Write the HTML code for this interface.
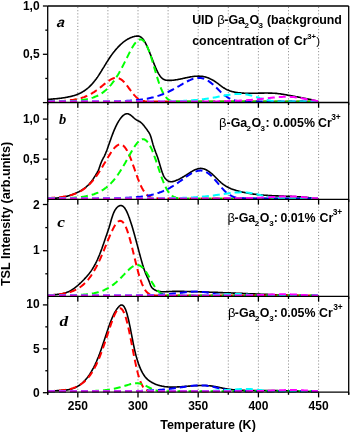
<!DOCTYPE html><html><head><meta charset="utf-8"><style>html,body{margin:0;padding:0;background:#fff;}svg{display:block;will-change:transform;}</style></head><body><svg xmlns="http://www.w3.org/2000/svg" width="350" height="432" viewBox="0 0 350 432">
<rect width="350" height="432" fill="#fff"/>
<g stroke="#8c8c8c" stroke-width="1" stroke-dasharray="1.1 2.05"><line x1="77.80" y1="7.00" x2="77.80" y2="102.00"/><line x1="77.80" y1="103.50" x2="77.80" y2="198.80"/><line x1="77.80" y1="200.30" x2="77.80" y2="295.90"/><line x1="77.80" y1="297.40" x2="77.80" y2="391.70"/><line x1="107.90" y1="7.00" x2="107.90" y2="102.00"/><line x1="107.90" y1="103.50" x2="107.90" y2="198.80"/><line x1="107.90" y1="200.30" x2="107.90" y2="295.90"/><line x1="107.90" y1="297.40" x2="107.90" y2="391.70"/><line x1="138.00" y1="7.00" x2="138.00" y2="102.00"/><line x1="138.00" y1="103.50" x2="138.00" y2="198.80"/><line x1="138.00" y1="200.30" x2="138.00" y2="295.90"/><line x1="138.00" y1="297.40" x2="138.00" y2="391.70"/><line x1="168.10" y1="7.00" x2="168.10" y2="102.00"/><line x1="168.10" y1="103.50" x2="168.10" y2="198.80"/><line x1="168.10" y1="200.30" x2="168.10" y2="295.90"/><line x1="168.10" y1="297.40" x2="168.10" y2="391.70"/><line x1="198.20" y1="7.00" x2="198.20" y2="102.00"/><line x1="198.20" y1="103.50" x2="198.20" y2="198.80"/><line x1="198.20" y1="200.30" x2="198.20" y2="295.90"/><line x1="198.20" y1="297.40" x2="198.20" y2="391.70"/><line x1="228.30" y1="7.00" x2="228.30" y2="102.00"/><line x1="228.30" y1="103.50" x2="228.30" y2="198.80"/><line x1="228.30" y1="200.30" x2="228.30" y2="295.90"/><line x1="228.30" y1="297.40" x2="228.30" y2="391.70"/><line x1="258.40" y1="7.00" x2="258.40" y2="102.00"/><line x1="258.40" y1="103.50" x2="258.40" y2="198.80"/><line x1="258.40" y1="200.30" x2="258.40" y2="295.90"/><line x1="258.40" y1="297.40" x2="258.40" y2="391.70"/><line x1="288.50" y1="7.00" x2="288.50" y2="102.00"/><line x1="288.50" y1="103.50" x2="288.50" y2="198.80"/><line x1="288.50" y1="200.30" x2="288.50" y2="295.90"/><line x1="288.50" y1="297.40" x2="288.50" y2="391.70"/><line x1="318.60" y1="7.00" x2="318.60" y2="102.00"/><line x1="318.60" y1="103.50" x2="318.60" y2="198.80"/><line x1="318.60" y1="200.30" x2="318.60" y2="295.90"/><line x1="318.60" y1="297.40" x2="318.60" y2="391.70"/></g>
<path d="M48.0,99.3 48.5,99.3 49.0,99.3 49.5,99.2 50.0,99.2 50.5,99.2 51.0,99.1 51.5,99.1 52.0,99.1 52.5,99.0 53.0,99.0 53.5,98.9 54.0,98.9 54.5,98.9 55.0,98.8 55.5,98.8 56.0,98.7 56.5,98.7 57.0,98.6 57.5,98.6 58.0,98.5 58.5,98.5 59.0,98.4 59.5,98.4 60.0,98.3 60.5,98.2 61.0,98.2 61.5,98.1 62.0,98.0 62.5,98.0 63.0,97.9 63.5,97.8 64.0,97.7 64.5,97.7 65.0,97.6 65.5,97.5 66.0,97.4 66.5,97.3 67.0,97.2 67.5,97.1 68.0,97.0 68.5,96.9 69.0,96.8 69.5,96.7 70.0,96.6 70.5,96.5 71.0,96.4 71.5,96.2 72.0,96.1 72.5,96.0 73.0,95.8 73.5,95.7 74.0,95.6 74.5,95.4 75.0,95.2 75.5,95.1 76.0,94.9 76.5,94.7 77.0,94.5 77.5,94.4 78.0,94.1 78.5,93.9 79.0,93.7 79.5,93.5 80.0,93.3 80.5,93.0 81.0,92.8 81.5,92.5 82.0,92.2 82.5,91.9 83.0,91.6 83.5,91.3 84.0,91.0 84.5,90.7 85.0,90.3 85.5,90.0 86.0,89.6 86.5,89.2 87.0,88.8 87.5,88.4 88.0,88.0 88.5,87.5 89.0,87.1 89.5,86.6 90.0,86.1 90.5,85.6 91.0,85.1 91.5,84.6 92.0,84.1 92.5,83.5 93.0,82.9 93.5,82.4 94.0,81.7 94.5,81.1 95.0,80.5 95.5,79.8 96.0,79.2 96.5,78.5 97.0,77.8 97.5,77.1 98.0,76.3 98.5,75.6 99.0,74.8 99.5,74.0 100.0,73.3 100.5,72.5 101.0,71.7 101.5,70.9 102.0,70.0 102.5,69.2 103.0,68.4 103.5,67.6 104.0,66.8 104.5,65.9 105.0,65.1 105.5,64.3 106.0,63.5 106.5,62.7 107.0,61.9 107.5,61.1 108.0,60.3 108.5,59.5 109.0,58.8 109.5,58.0 110.0,57.3 110.5,56.5 111.0,55.8 111.5,55.1 112.0,54.4 112.5,53.7 113.0,53.1 113.5,52.4 114.0,51.8 114.5,51.2 115.0,50.5 115.5,49.9 116.0,49.4 116.5,48.8 117.0,48.2 117.5,47.7 118.0,47.1 118.5,46.6 119.0,46.1 119.5,45.6 120.0,45.1 120.5,44.6 121.0,44.2 121.5,43.7 122.0,43.3 122.5,42.8 123.0,42.4 123.5,42.0 124.0,41.6 124.5,41.3 125.0,40.9 125.5,40.6 126.0,40.2 126.5,39.9 127.0,39.6 127.5,39.3 128.0,39.0 128.5,38.7 129.0,38.5 129.5,38.2 130.0,38.0 130.5,37.8 131.0,37.6 131.5,37.4 132.0,37.2 132.5,37.0 133.0,36.8 133.5,36.7 134.0,36.6 134.5,36.4 135.0,36.3 135.5,36.2 136.0,36.2 136.5,36.1 137.0,36.1 137.5,36.1 138.0,36.1 138.5,36.1 139.0,36.3 139.5,36.4 140.0,36.6 140.5,36.9 141.0,37.2 141.5,37.6 142.0,38.0 142.5,38.5 143.0,39.1 143.5,39.8 144.0,40.5 144.5,41.3 145.0,42.2 145.5,43.1 146.0,44.1 146.5,45.1 147.0,46.2 147.5,47.3 148.0,48.4 148.5,49.6 149.0,50.9 149.5,52.1 150.0,53.4 150.5,54.6 151.0,55.9 151.5,57.2 152.0,58.5 152.5,59.8 153.0,61.1 153.5,62.4 154.0,63.6 154.5,64.9 155.0,66.1 155.5,67.3 156.0,68.4 156.5,69.6 157.0,70.6 157.5,71.7 158.0,72.6 158.5,73.6 159.0,74.4 159.5,75.2 160.0,76.0 160.5,76.6 161.0,77.2 161.5,77.7 162.0,78.2 162.5,78.6 163.0,79.0 163.5,79.3 164.0,79.5 164.5,79.8 165.0,79.9 165.5,80.1 166.0,80.2 166.5,80.3 167.0,80.3 167.5,80.4 168.0,80.4 168.5,80.4 169.0,80.4 169.5,80.4 170.0,80.4 170.5,80.4 171.0,80.4 171.5,80.4 172.0,80.3 172.5,80.3 173.0,80.2 173.5,80.2 174.0,80.1 174.5,80.0 175.0,80.0 175.5,79.9 176.0,79.8 176.5,79.7 177.0,79.7 177.5,79.6 178.0,79.5 178.5,79.4 179.0,79.3 179.5,79.2 180.0,79.1 180.5,79.0 181.0,78.9 181.5,78.8 182.0,78.7 182.5,78.6 183.0,78.4 183.5,78.3 184.0,78.2 184.5,78.1 185.0,78.0 185.5,77.9 186.0,77.8 186.5,77.7 187.0,77.6 187.5,77.5 188.0,77.4 188.5,77.3 189.0,77.2 189.5,77.1 190.0,77.0 190.5,76.9 191.0,76.8 191.5,76.7 192.0,76.7 192.5,76.6 193.0,76.5 193.5,76.5 194.0,76.4 194.5,76.3 195.0,76.3 195.5,76.3 196.0,76.2 196.5,76.2 197.0,76.2 197.5,76.2 198.0,76.1 198.5,76.1 199.0,76.1 199.5,76.2 200.0,76.2 200.5,76.2 201.0,76.3 201.5,76.3 202.0,76.4 202.5,76.4 203.0,76.5 203.5,76.6 204.0,76.7 204.5,76.8 205.0,76.9 205.5,77.0 206.0,77.2 206.5,77.3 207.0,77.5 207.5,77.7 208.0,77.8 208.5,78.0 209.0,78.2 209.5,78.4 210.0,78.7 210.5,78.9 211.0,79.2 211.5,79.4 212.0,79.7 212.5,80.0 213.0,80.2 213.5,80.5 214.0,80.8 214.5,81.2 215.0,81.5 215.5,81.8 216.0,82.2 216.5,82.5 217.0,82.9 217.5,83.2 218.0,83.6 218.5,84.0 219.0,84.4 219.5,84.8 220.0,85.2 220.5,85.6 221.0,85.9 221.5,86.3 222.0,86.7 222.5,87.1 223.0,87.4 223.5,87.7 224.0,88.0 224.5,88.3 225.0,88.6 225.5,88.9 226.0,89.2 226.5,89.4 227.0,89.7 227.5,89.9 228.0,90.1 228.5,90.3 229.0,90.5 229.5,90.7 230.0,90.9 230.5,91.1 231.0,91.2 231.5,91.4 232.0,91.5 232.5,91.7 233.0,91.8 233.5,91.9 234.0,92.0 234.5,92.1 235.0,92.2 235.5,92.3 236.0,92.4 236.5,92.5 237.0,92.5 237.5,92.6 238.0,92.7 238.5,92.7 239.0,92.8 239.5,92.8 240.0,92.9 240.5,92.9 241.0,93.0 241.5,93.0 242.0,93.0 242.5,93.1 243.0,93.1 243.5,93.1 244.0,93.2 244.5,93.2 245.0,93.2 245.5,93.2 246.0,93.2 246.5,93.2 247.0,93.3 247.5,93.3 248.0,93.3 248.5,93.3 249.0,93.3 249.5,93.3 250.0,93.3 250.5,93.3 251.0,93.3 251.5,93.3 252.0,93.3 252.5,93.3 253.0,93.3 253.5,93.3 254.0,93.3 254.5,93.2 255.0,93.2 255.5,93.2 256.0,93.2 256.5,93.2 257.0,93.2 257.5,93.2 258.0,93.2 258.5,93.2 259.0,93.1 259.5,93.1 260.0,93.1 260.5,93.1 261.0,93.1 261.5,93.1 262.0,93.1 262.5,93.1 263.0,93.1 263.5,93.1 264.0,93.1 264.5,93.0 265.0,93.0 265.5,93.0 266.0,93.0 266.5,93.0 267.0,93.0 267.5,93.0 268.0,93.0 268.5,93.1 269.0,93.1 269.5,93.1 270.0,93.1 270.5,93.1 271.0,93.1 271.5,93.1 272.0,93.1 272.5,93.2 273.0,93.2 273.5,93.2 274.0,93.3 274.5,93.3 275.0,93.3 275.5,93.4 276.0,93.4 276.5,93.4 277.0,93.5 277.5,93.5 278.0,93.6 278.5,93.7 279.0,93.7 279.5,93.8 280.0,93.8 280.5,93.9 281.0,94.0 281.5,94.1 282.0,94.1 282.5,94.2 283.0,94.3 283.5,94.4 284.0,94.5 284.5,94.5 285.0,94.6 285.5,94.7 286.0,94.8 286.5,94.9 287.0,95.0 287.5,95.1 288.0,95.2 288.5,95.3 289.0,95.4 289.5,95.5 290.0,95.5 290.5,95.6 291.0,95.7 291.5,95.8 292.0,95.9 292.5,96.0 293.0,96.1 293.5,96.2 294.0,96.3 294.5,96.4 295.0,96.5 295.5,96.6 296.0,96.7 296.5,96.7 297.0,96.8 297.5,96.9 298.0,97.0 298.5,97.1 299.0,97.2 299.5,97.3 300.0,97.4 300.5,97.5 301.0,97.6 301.5,97.7 302.0,97.8 302.5,97.9 303.0,98.0 303.5,98.1 304.0,98.2 304.5,98.3 305.0,98.4 305.5,98.5 306.0,98.6 306.5,98.7 307.0,98.8 307.5,98.9 308.0,99.0 308.5,99.1 309.0,99.2 309.5,99.3 310.0,99.4 310.5,99.5 311.0,99.6 311.5,99.8 312.0,99.9 312.5,100.0 313.0,100.1 313.5,100.2 314.0,100.4 314.5,100.5 315.0,100.6 315.5,100.7 316.0,100.9 316.5,101.0 317.0,101.2 317.5,101.3 318.0,101.4 318.5,101.6" fill="none" stroke="#000" stroke-width="1.6" stroke-linejoin="round"/>
<path d="M48.0,101.5 49.0,101.4 50.0,101.4 51.0,101.4 52.0,101.4 53.0,101.4 54.0,101.3 55.0,101.3 56.0,101.3 57.0,101.2 58.0,101.2 59.0,101.1 60.0,101.1 61.0,101.0 62.0,101.0 63.0,100.9 64.0,100.9 65.0,100.8 66.0,100.7 67.0,100.6 68.0,100.5 69.0,100.4 70.0,100.3 71.0,100.1 72.0,100.0 73.0,99.9 74.0,99.7 75.0,99.5 76.0,99.3 77.0,99.1 78.0,98.9 79.0,98.6 80.0,98.4 81.0,98.1 82.0,97.8 83.0,97.4 84.0,97.1 85.0,96.7 86.0,96.3 87.0,95.9 88.0,95.4 89.0,94.9 90.0,94.4 91.0,93.9 92.0,93.3 93.0,92.7 94.0,92.1 95.0,91.4 96.0,90.7 97.0,90.0 98.0,89.2 99.0,88.5 100.0,87.7 101.0,86.9 102.0,86.1 103.0,85.2 104.0,84.4 105.0,83.6 106.0,82.8 107.0,82.0 108.0,81.3 109.0,80.6 110.0,80.0 111.0,79.4 112.0,78.9 113.0,78.5 114.0,78.1 115.0,77.9 116.0,77.8 117.0,77.9 118.0,78.0 119.0,78.3 120.0,78.8 121.0,79.4 122.0,80.1 123.0,81.0 124.0,82.0 125.0,83.1 126.0,84.3 127.0,85.6 128.0,86.9 129.0,88.3 130.0,89.7 131.0,91.0 132.0,92.4 133.0,93.6 134.0,94.8 135.0,95.9 136.0,96.9 137.0,97.8 138.0,98.6 139.0,99.3 140.0,99.8 141.0,100.3 142.0,100.6 143.0,100.9 144.0,101.1 145.0,101.3 146.0,101.4 147.0,101.5 148.0,101.5 149.0,101.5 150.0,101.6 151.0,101.6 152.0,101.6 153.0,101.6 154.0,101.6 155.0,101.6 156.0,101.6 157.0,101.6 158.0,101.6 159.0,101.6 160.0,101.6 161.0,101.6 162.0,101.6 163.0,101.6 164.0,101.6 165.0,101.6 166.0,101.6 167.0,101.6 168.0,101.6 169.0,101.6 170.0,101.6 171.0,101.6 172.0,101.6 173.0,101.6 174.0,101.6 175.0,101.6 176.0,101.6 177.0,101.6 178.0,101.6 179.0,101.6 180.0,101.6 181.0,101.6 182.0,101.6 183.0,101.6 184.0,101.6 185.0,101.6 186.0,101.6 187.0,101.6 188.0,101.6 189.0,101.6 190.0,101.6 191.0,101.6 192.0,101.6 193.0,101.6 194.0,101.6 195.0,101.6 196.0,101.6 197.0,101.6 198.0,101.6 199.0,101.6 200.0,101.6 201.0,101.6 202.0,101.6 203.0,101.6 204.0,101.6 205.0,101.6 206.0,101.6 207.0,101.6 208.0,101.6 209.0,101.6 210.0,101.6 211.0,101.6 212.0,101.6 213.0,101.6 214.0,101.6 215.0,101.6 216.0,101.6 217.0,101.6 218.0,101.6 219.0,101.6 220.0,101.6 221.0,101.6 222.0,101.6 223.0,101.6 224.0,101.6 225.0,101.6 226.0,101.6 227.0,101.6 228.0,101.6 229.0,101.6 230.0,101.6 231.0,101.6 232.0,101.6 233.0,101.6 234.0,101.6 235.0,101.6 236.0,101.6 237.0,101.6 238.0,101.6 239.0,101.6 240.0,101.6 241.0,101.6 242.0,101.6 243.0,101.6 244.0,101.6 245.0,101.6 246.0,101.6 247.0,101.6 248.0,101.6 249.0,101.6 250.0,101.6 251.0,101.6 252.0,101.6 253.0,101.6 254.0,101.6 255.0,101.6 256.0,101.6 257.0,101.6 258.0,101.6 259.0,101.6 260.0,101.6 261.0,101.6 262.0,101.6 263.0,101.6 264.0,101.6 265.0,101.6 266.0,101.6 267.0,101.6 268.0,101.6 269.0,101.6 270.0,101.6 271.0,101.6 272.0,101.6 273.0,101.6 274.0,101.6 275.0,101.6 276.0,101.6 277.0,101.6 278.0,101.6 279.0,101.6 280.0,101.6 281.0,101.6 282.0,101.6 283.0,101.6 284.0,101.6 285.0,101.6 286.0,101.6 287.0,101.6 288.0,101.6 289.0,101.6 290.0,101.6 291.0,101.6 292.0,101.6 293.0,101.6 294.0,101.6 295.0,101.6 296.0,101.6 297.0,101.6 298.0,101.6 299.0,101.6 300.0,101.6 301.0,101.6 302.0,101.6 303.0,101.6 304.0,101.6 305.0,101.6 306.0,101.6 307.0,101.6 308.0,101.6 309.0,101.6 310.0,101.6 311.0,101.6 312.0,101.6 313.0,101.6 314.0,101.6 315.0,101.6 316.0,101.6 317.0,101.6 318.0,101.6" fill="none" stroke="#ff0000" stroke-width="2" stroke-dasharray="7 4" stroke-linejoin="round"/>
<path d="M48.0,101.6 49.0,101.6 50.0,101.5 51.0,101.5 52.0,101.5 53.0,101.5 54.0,101.5 55.0,101.5 56.0,101.5 57.0,101.5 58.0,101.5 59.0,101.5 60.0,101.4 61.0,101.4 62.0,101.4 63.0,101.4 64.0,101.4 65.0,101.3 66.0,101.3 67.0,101.3 68.0,101.2 69.0,101.2 70.0,101.1 71.0,101.1 72.0,101.0 73.0,101.0 74.0,100.9 75.0,100.8 76.0,100.8 77.0,100.7 78.0,100.6 79.0,100.5 80.0,100.4 81.0,100.2 82.0,100.1 83.0,100.0 84.0,99.8 85.0,99.6 86.0,99.4 87.0,99.2 88.0,99.0 89.0,98.8 90.0,98.5 91.0,98.2 92.0,97.9 93.0,97.6 94.0,97.2 95.0,96.8 96.0,96.4 97.0,96.0 98.0,95.5 99.0,94.9 100.0,94.4 101.0,93.8 102.0,93.1 103.0,92.4 104.0,91.6 105.0,90.8 106.0,90.0 107.0,89.1 108.0,88.1 109.0,87.0 110.0,85.9 111.0,84.8 112.0,83.5 113.0,82.2 114.0,80.9 115.0,79.4 116.0,77.9 117.0,76.3 118.0,74.7 119.0,73.0 120.0,71.2 121.0,69.4 122.0,67.5 123.0,65.6 124.0,63.6 125.0,61.6 126.0,59.6 127.0,57.6 128.0,55.6 129.0,53.6 130.0,51.6 131.0,49.8 132.0,48.0 133.0,46.3 134.0,44.7 135.0,43.3 136.0,42.1 137.0,41.0 138.0,40.2 139.0,39.7 140.0,39.4 141.0,39.4 142.0,39.7 143.0,40.4 144.0,41.3 145.0,42.6 146.0,44.3 147.0,46.2 148.0,48.5 149.0,51.0 150.0,53.8 151.0,56.8 152.0,60.0 153.0,63.3 154.0,66.7 155.0,70.1 156.0,73.5 157.0,76.8 158.0,80.0 159.0,83.0 160.0,85.8 161.0,88.4 162.0,90.7 163.0,92.7 164.0,94.5 165.0,96.1 166.0,97.3 167.0,98.4 168.0,99.2 169.0,99.9 170.0,100.4 171.0,100.8 172.0,101.0 173.0,101.2 174.0,101.4 175.0,101.5 176.0,101.5 177.0,101.5 178.0,101.6 179.0,101.6 180.0,101.6 181.0,101.6 182.0,101.6 183.0,101.6 184.0,101.6 185.0,101.6 186.0,101.6 187.0,101.6 188.0,101.6 189.0,101.6 190.0,101.6 191.0,101.6 192.0,101.6 193.0,101.6 194.0,101.6 195.0,101.6 196.0,101.6 197.0,101.6 198.0,101.6 199.0,101.6 200.0,101.6 201.0,101.6 202.0,101.6 203.0,101.6 204.0,101.6 205.0,101.6 206.0,101.6 207.0,101.6 208.0,101.6 209.0,101.6 210.0,101.6 211.0,101.6 212.0,101.6 213.0,101.6 214.0,101.6 215.0,101.6 216.0,101.6 217.0,101.6 218.0,101.6 219.0,101.6 220.0,101.6 221.0,101.6 222.0,101.6 223.0,101.6 224.0,101.6 225.0,101.6 226.0,101.6 227.0,101.6 228.0,101.6 229.0,101.6 230.0,101.6 231.0,101.6 232.0,101.6 233.0,101.6 234.0,101.6 235.0,101.6 236.0,101.6 237.0,101.6 238.0,101.6 239.0,101.6 240.0,101.6 241.0,101.6 242.0,101.6 243.0,101.6 244.0,101.6 245.0,101.6 246.0,101.6 247.0,101.6 248.0,101.6 249.0,101.6 250.0,101.6 251.0,101.6 252.0,101.6 253.0,101.6 254.0,101.6 255.0,101.6 256.0,101.6 257.0,101.6 258.0,101.6 259.0,101.6 260.0,101.6 261.0,101.6 262.0,101.6 263.0,101.6 264.0,101.6 265.0,101.6 266.0,101.6 267.0,101.6 268.0,101.6 269.0,101.6 270.0,101.6 271.0,101.6 272.0,101.6 273.0,101.6 274.0,101.6 275.0,101.6 276.0,101.6 277.0,101.6 278.0,101.6 279.0,101.6 280.0,101.6 281.0,101.6 282.0,101.6 283.0,101.6 284.0,101.6 285.0,101.6 286.0,101.6 287.0,101.6 288.0,101.6 289.0,101.6 290.0,101.6 291.0,101.6 292.0,101.6 293.0,101.6 294.0,101.6 295.0,101.6 296.0,101.6 297.0,101.6 298.0,101.6 299.0,101.6 300.0,101.6 301.0,101.6 302.0,101.6 303.0,101.6 304.0,101.6 305.0,101.6 306.0,101.6 307.0,101.6 308.0,101.6 309.0,101.6 310.0,101.6 311.0,101.6 312.0,101.6 313.0,101.6 314.0,101.6 315.0,101.6 316.0,101.6 317.0,101.6 318.0,101.6" fill="none" stroke="#00ff00" stroke-width="2" stroke-dasharray="7 4" stroke-linejoin="round"/>
<path d="M48.0,101.6 49.0,101.6 50.0,101.6 51.0,101.6 52.0,101.6 53.0,101.6 54.0,101.6 55.0,101.6 56.0,101.6 57.0,101.6 58.0,101.6 59.0,101.6 60.0,101.6 61.0,101.6 62.0,101.6 63.0,101.6 64.0,101.6 65.0,101.6 66.0,101.6 67.0,101.6 68.0,101.6 69.0,101.6 70.0,101.6 71.0,101.6 72.0,101.6 73.0,101.6 74.0,101.6 75.0,101.6 76.0,101.6 77.0,101.6 78.0,101.6 79.0,101.6 80.0,101.6 81.0,101.6 82.0,101.6 83.0,101.6 84.0,101.6 85.0,101.6 86.0,101.6 87.0,101.6 88.0,101.6 89.0,101.6 90.0,101.6 91.0,101.6 92.0,101.6 93.0,101.6 94.0,101.5 95.0,101.5 96.0,101.5 97.0,101.5 98.0,101.5 99.0,101.5 100.0,101.5 101.0,101.5 102.0,101.5 103.0,101.5 104.0,101.5 105.0,101.5 106.0,101.4 107.0,101.4 108.0,101.4 109.0,101.4 110.0,101.4 111.0,101.4 112.0,101.4 113.0,101.3 114.0,101.3 115.0,101.3 116.0,101.3 117.0,101.2 118.0,101.2 119.0,101.2 120.0,101.1 121.0,101.1 122.0,101.1 123.0,101.0 124.0,101.0 125.0,100.9 126.0,100.9 127.0,100.8 128.0,100.8 129.0,100.7 130.0,100.7 131.0,100.6 132.0,100.5 133.0,100.4 134.0,100.3 135.0,100.3 136.0,100.2 137.0,100.1 138.0,100.0 139.0,99.8 140.0,99.7 141.0,99.6 142.0,99.5 143.0,99.3 144.0,99.2 145.0,99.0 146.0,98.8 147.0,98.7 148.0,98.5 149.0,98.3 150.0,98.1 151.0,97.8 152.0,97.6 153.0,97.4 154.0,97.1 155.0,96.8 156.0,96.5 157.0,96.2 158.0,95.9 159.0,95.6 160.0,95.3 161.0,94.9 162.0,94.5 163.0,94.2 164.0,93.7 165.0,93.3 166.0,92.9 167.0,92.5 168.0,92.0 169.0,91.5 170.0,91.0 171.0,90.5 172.0,90.0 173.0,89.5 174.0,88.9 175.0,88.4 176.0,87.8 177.0,87.2 178.0,86.6 179.0,86.1 180.0,85.5 181.0,84.9 182.0,84.3 183.0,83.7 184.0,83.2 185.0,82.6 186.0,82.0 187.0,81.5 188.0,81.0 189.0,80.5 190.0,80.1 191.0,79.6 192.0,79.2 193.0,78.9 194.0,78.6 195.0,78.3 196.0,78.1 197.0,78.0 198.0,77.9 199.0,77.9 200.0,77.9 201.0,78.0 202.0,78.2 203.0,78.4 204.0,78.7 205.0,79.1 206.0,79.6 207.0,80.1 208.0,80.7 209.0,81.4 210.0,82.1 211.0,82.9 212.0,83.7 213.0,84.6 214.0,85.5 215.0,86.4 216.0,87.4 217.0,88.3 218.0,89.3 219.0,90.3 220.0,91.2 221.0,92.2 222.0,93.1 223.0,93.9 224.0,94.8 225.0,95.6 226.0,96.3 227.0,97.0 228.0,97.6 229.0,98.2 230.0,98.7 231.0,99.2 232.0,99.6 233.0,99.9 234.0,100.2 235.0,100.5 236.0,100.7 237.0,100.9 238.0,101.1 239.0,101.2 240.0,101.3 241.0,101.4 242.0,101.4 243.0,101.5 244.0,101.5 245.0,101.5 246.0,101.6 247.0,101.6 248.0,101.6 249.0,101.6 250.0,101.6 251.0,101.6 252.0,101.6 253.0,101.6 254.0,101.6 255.0,101.6 256.0,101.6 257.0,101.6 258.0,101.6 259.0,101.6 260.0,101.6 261.0,101.6 262.0,101.6 263.0,101.6 264.0,101.6 265.0,101.6 266.0,101.6 267.0,101.6 268.0,101.6 269.0,101.6 270.0,101.6 271.0,101.6 272.0,101.6 273.0,101.6 274.0,101.6 275.0,101.6 276.0,101.6 277.0,101.6 278.0,101.6 279.0,101.6 280.0,101.6 281.0,101.6 282.0,101.6 283.0,101.6 284.0,101.6 285.0,101.6 286.0,101.6 287.0,101.6 288.0,101.6 289.0,101.6 290.0,101.6 291.0,101.6 292.0,101.6 293.0,101.6 294.0,101.6 295.0,101.6 296.0,101.6 297.0,101.6 298.0,101.6 299.0,101.6 300.0,101.6 301.0,101.6 302.0,101.6 303.0,101.6 304.0,101.6 305.0,101.6 306.0,101.6 307.0,101.6 308.0,101.6 309.0,101.6 310.0,101.6 311.0,101.6 312.0,101.6 313.0,101.6 314.0,101.6 315.0,101.6 316.0,101.6 317.0,101.6 318.0,101.6" fill="none" stroke="#0000ff" stroke-width="2" stroke-dasharray="7 4" stroke-linejoin="round"/>
<path d="M48.0,101.6 49.0,101.6 50.0,101.6 51.0,101.6 52.0,101.6 53.0,101.6 54.0,101.6 55.0,101.6 56.0,101.6 57.0,101.6 58.0,101.6 59.0,101.6 60.0,101.6 61.0,101.6 62.0,101.6 63.0,101.6 64.0,101.6 65.0,101.6 66.0,101.6 67.0,101.6 68.0,101.6 69.0,101.6 70.0,101.6 71.0,101.6 72.0,101.6 73.0,101.6 74.0,101.6 75.0,101.6 76.0,101.6 77.0,101.6 78.0,101.6 79.0,101.6 80.0,101.6 81.0,101.6 82.0,101.6 83.0,101.6 84.0,101.6 85.0,101.6 86.0,101.6 87.0,101.6 88.0,101.6 89.0,101.6 90.0,101.6 91.0,101.6 92.0,101.6 93.0,101.6 94.0,101.6 95.0,101.6 96.0,101.6 97.0,101.6 98.0,101.6 99.0,101.6 100.0,101.6 101.0,101.6 102.0,101.6 103.0,101.6 104.0,101.6 105.0,101.6 106.0,101.6 107.0,101.6 108.0,101.6 109.0,101.6 110.0,101.6 111.0,101.6 112.0,101.6 113.0,101.6 114.0,101.6 115.0,101.6 116.0,101.6 117.0,101.6 118.0,101.6 119.0,101.6 120.0,101.6 121.0,101.6 122.0,101.6 123.0,101.6 124.0,101.6 125.0,101.6 126.0,101.6 127.0,101.6 128.0,101.6 129.0,101.6 130.0,101.6 131.0,101.6 132.0,101.6 133.0,101.6 134.0,101.6 135.0,101.6 136.0,101.6 137.0,101.6 138.0,101.6 139.0,101.6 140.0,101.6 141.0,101.6 142.0,101.6 143.0,101.6 144.0,101.6 145.0,101.6 146.0,101.5 147.0,101.5 148.0,101.5 149.0,101.5 150.0,101.5 151.0,101.5 152.0,101.5 153.0,101.5 154.0,101.5 155.0,101.5 156.0,101.5 157.0,101.5 158.0,101.5 159.0,101.5 160.0,101.4 161.0,101.4 162.0,101.4 163.0,101.4 164.0,101.4 165.0,101.4 166.0,101.4 167.0,101.3 168.0,101.3 169.0,101.3 170.0,101.3 171.0,101.3 172.0,101.2 173.0,101.2 174.0,101.2 175.0,101.2 176.0,101.1 177.0,101.1 178.0,101.1 179.0,101.0 180.0,101.0 181.0,100.9 182.0,100.9 183.0,100.9 184.0,100.8 185.0,100.8 186.0,100.7 187.0,100.6 188.0,100.6 189.0,100.5 190.0,100.5 191.0,100.4 192.0,100.3 193.0,100.2 194.0,100.1 195.0,100.1 196.0,100.0 197.0,99.9 198.0,99.8 199.0,99.7 200.0,99.6 201.0,99.4 202.0,99.3 203.0,99.2 204.0,99.1 205.0,98.9 206.0,98.8 207.0,98.7 208.0,98.5 209.0,98.4 210.0,98.2 211.0,98.0 212.0,97.9 213.0,97.7 214.0,97.5 215.0,97.4 216.0,97.2 217.0,97.0 218.0,96.8 219.0,96.6 220.0,96.4 221.0,96.2 222.0,96.0 223.0,95.9 224.0,95.7 225.0,95.5 226.0,95.3 227.0,95.1 228.0,95.0 229.0,94.8 230.0,94.7 231.0,94.5 232.0,94.4 233.0,94.3 234.0,94.2 235.0,94.1 236.0,94.0 237.0,93.9 238.0,93.9 239.0,93.9 240.0,93.9 241.0,93.9 242.0,94.0 243.0,94.0 244.0,94.1 245.0,94.3 246.0,94.4 247.0,94.6 248.0,94.8 249.0,95.0 250.0,95.2 251.0,95.4 252.0,95.7 253.0,96.0 254.0,96.3 255.0,96.6 256.0,96.9 257.0,97.2 258.0,97.5 259.0,97.8 260.0,98.2 261.0,98.5 262.0,98.8 263.0,99.1 264.0,99.3 265.0,99.6 266.0,99.8 267.0,100.1 268.0,100.3 269.0,100.5 270.0,100.6 271.0,100.8 272.0,100.9 273.0,101.1 274.0,101.2 275.0,101.2 276.0,101.3 277.0,101.4 278.0,101.4 279.0,101.5 280.0,101.5 281.0,101.5 282.0,101.5 283.0,101.6 284.0,101.6 285.0,101.6 286.0,101.6 287.0,101.6 288.0,101.6 289.0,101.6 290.0,101.6 291.0,101.6 292.0,101.6 293.0,101.6 294.0,101.6 295.0,101.6 296.0,101.6 297.0,101.6 298.0,101.6 299.0,101.6 300.0,101.6 301.0,101.6 302.0,101.6 303.0,101.6 304.0,101.6 305.0,101.6 306.0,101.6 307.0,101.6 308.0,101.6 309.0,101.6 310.0,101.6 311.0,101.6 312.0,101.6 313.0,101.6 314.0,101.6 315.0,101.6 316.0,101.6 317.0,101.6 318.0,101.6" fill="none" stroke="#00ffff" stroke-width="2" stroke-dasharray="7 4" stroke-linejoin="round"/>
<path d="M48.0,101.6 49.0,101.6 50.0,101.6 51.0,101.6 52.0,101.6 53.0,101.6 54.0,101.6 55.0,101.6 56.0,101.6 57.0,101.6 58.0,101.6 59.0,101.6 60.0,101.6 61.0,101.6 62.0,101.6 63.0,101.6 64.0,101.6 65.0,101.6 66.0,101.6 67.0,101.6 68.0,101.6 69.0,101.6 70.0,101.6 71.0,101.6 72.0,101.6 73.0,101.6 74.0,101.6 75.0,101.6 76.0,101.6 77.0,101.6 78.0,101.6 79.0,101.6 80.0,101.6 81.0,101.6 82.0,101.6 83.0,101.6 84.0,101.6 85.0,101.6 86.0,101.6 87.0,101.6 88.0,101.6 89.0,101.6 90.0,101.6 91.0,101.6 92.0,101.6 93.0,101.6 94.0,101.6 95.0,101.6 96.0,101.6 97.0,101.6 98.0,101.6 99.0,101.6 100.0,101.6 101.0,101.6 102.0,101.6 103.0,101.6 104.0,101.6 105.0,101.6 106.0,101.6 107.0,101.6 108.0,101.6 109.0,101.6 110.0,101.6 111.0,101.6 112.0,101.6 113.0,101.6 114.0,101.6 115.0,101.6 116.0,101.6 117.0,101.6 118.0,101.6 119.0,101.6 120.0,101.6 121.0,101.6 122.0,101.6 123.0,101.6 124.0,101.6 125.0,101.6 126.0,101.6 127.0,101.6 128.0,101.6 129.0,101.6 130.0,101.6 131.0,101.6 132.0,101.6 133.0,101.6 134.0,101.6 135.0,101.6 136.0,101.6 137.0,101.6 138.0,101.6 139.0,101.6 140.0,101.6 141.0,101.6 142.0,101.6 143.0,101.6 144.0,101.6 145.0,101.6 146.0,101.6 147.0,101.6 148.0,101.6 149.0,101.6 150.0,101.6 151.0,101.6 152.0,101.6 153.0,101.6 154.0,101.6 155.0,101.6 156.0,101.6 157.0,101.6 158.0,101.6 159.0,101.6 160.0,101.6 161.0,101.6 162.0,101.6 163.0,101.6 164.0,101.6 165.0,101.6 166.0,101.6 167.0,101.6 168.0,101.6 169.0,101.6 170.0,101.6 171.0,101.6 172.0,101.6 173.0,101.6 174.0,101.6 175.0,101.6 176.0,101.6 177.0,101.6 178.0,101.6 179.0,101.6 180.0,101.6 181.0,101.6 182.0,101.6 183.0,101.6 184.0,101.6 185.0,101.6 186.0,101.6 187.0,101.6 188.0,101.6 189.0,101.6 190.0,101.6 191.0,101.6 192.0,101.6 193.0,101.6 194.0,101.5 195.0,101.5 196.0,101.5 197.0,101.5 198.0,101.5 199.0,101.5 200.0,101.5 201.0,101.5 202.0,101.5 203.0,101.5 204.0,101.5 205.0,101.5 206.0,101.5 207.0,101.5 208.0,101.5 209.0,101.5 210.0,101.4 211.0,101.4 212.0,101.4 213.0,101.4 214.0,101.4 215.0,101.4 216.0,101.4 217.0,101.4 218.0,101.3 219.0,101.3 220.0,101.3 221.0,101.3 222.0,101.3 223.0,101.2 224.0,101.2 225.0,101.2 226.0,101.2 227.0,101.1 228.0,101.1 229.0,101.1 230.0,101.1 231.0,101.0 232.0,101.0 233.0,101.0 234.0,100.9 235.0,100.9 236.0,100.8 237.0,100.8 238.0,100.7 239.0,100.7 240.0,100.6 241.0,100.6 242.0,100.5 243.0,100.5 244.0,100.4 245.0,100.3 246.0,100.3 247.0,100.2 248.0,100.1 249.0,100.1 250.0,100.0 251.0,99.9 252.0,99.8 253.0,99.7 254.0,99.6 255.0,99.5 256.0,99.5 257.0,99.4 258.0,99.3 259.0,99.2 260.0,99.1 261.0,98.9 262.0,98.8 263.0,98.7 264.0,98.6 265.0,98.5 266.0,98.4 267.0,98.3 268.0,98.2 269.0,98.0 270.0,97.9 271.0,97.8 272.0,97.7 273.0,97.6 274.0,97.5 275.0,97.4 276.0,97.3 277.0,97.2 278.0,97.1 279.0,97.1 280.0,97.0 281.0,96.9 282.0,96.9 283.0,96.8 284.0,96.8 285.0,96.8 286.0,96.8 287.0,96.8 288.0,96.8 289.0,96.8 290.0,96.8 291.0,96.9 292.0,97.0 293.0,97.1 294.0,97.1 295.0,97.3 296.0,97.4 297.0,97.5 298.0,97.7 299.0,97.8 300.0,98.0 301.0,98.1 302.0,98.3 303.0,98.5 304.0,98.7 305.0,98.9 306.0,99.1 307.0,99.3 308.0,99.5 309.0,99.7 310.0,99.8 311.0,100.0 312.0,100.2 313.0,100.3 314.0,100.5 315.0,100.6 316.0,100.8 317.0,100.9 318.0,101.0" fill="none" stroke="#ff00ff" stroke-width="2" stroke-dasharray="7 4" stroke-linejoin="round"/>
<path d="M48.0,198.2 48.5,198.2 49.0,198.2 49.5,198.2 50.0,198.2 50.5,198.2 51.0,198.3 51.5,198.3 52.0,198.3 52.5,198.2 53.0,198.2 53.5,198.2 54.0,198.2 54.5,198.2 55.0,198.2 55.5,198.1 56.0,198.1 56.5,198.1 57.0,198.0 57.5,198.0 58.0,197.9 58.5,197.9 59.0,197.8 59.5,197.7 60.0,197.7 60.5,197.6 61.0,197.5 61.5,197.4 62.0,197.4 62.5,197.3 63.0,197.2 63.5,197.1 64.0,197.0 64.5,196.9 65.0,196.8 65.5,196.6 66.0,196.5 66.5,196.4 67.0,196.3 67.5,196.1 68.0,196.0 68.5,195.8 69.0,195.7 69.5,195.5 70.0,195.4 70.5,195.2 71.0,195.0 71.5,194.9 72.0,194.7 72.5,194.5 73.0,194.3 73.5,194.1 74.0,193.9 74.5,193.7 75.0,193.5 75.5,193.3 76.0,193.1 76.5,192.9 77.0,192.6 77.5,192.4 78.0,192.1 78.5,191.9 79.0,191.7 79.5,191.4 80.0,191.1 80.5,190.9 81.0,190.6 81.5,190.3 82.0,190.0 82.5,189.7 83.0,189.3 83.5,189.0 84.0,188.6 84.5,188.3 85.0,187.9 85.5,187.5 86.0,187.1 86.5,186.6 87.0,186.2 87.5,185.7 88.0,185.3 88.5,184.7 89.0,184.2 89.5,183.7 90.0,183.1 90.5,182.5 91.0,181.9 91.5,181.3 92.0,180.6 92.5,179.9 93.0,179.2 93.5,178.5 94.0,177.7 94.5,176.9 95.0,176.1 95.5,175.3 96.0,174.5 96.5,173.7 97.0,172.9 97.5,172.0 98.0,171.0 98.5,169.9 99.0,168.6 99.5,167.2 100.0,165.8 100.5,164.3 101.0,163.0 101.5,161.7 102.0,160.6 102.5,159.6 103.0,158.7 103.5,157.7 104.0,156.8 104.5,155.8 105.0,154.7 105.5,153.6 106.0,152.3 106.5,151.1 107.0,149.8 107.5,148.4 108.0,147.0 108.5,145.6 109.0,144.2 109.5,142.7 110.0,141.3 110.5,139.9 111.0,138.5 111.5,137.1 112.0,135.7 112.5,134.4 113.0,133.1 113.5,131.8 114.0,130.6 114.5,129.4 115.0,128.3 115.5,127.2 116.0,126.1 116.5,125.1 117.0,124.1 117.5,123.2 118.0,122.3 118.5,121.4 119.0,120.6 119.5,119.9 120.0,119.1 120.5,118.4 121.0,117.8 121.5,117.2 122.0,116.6 122.5,116.1 123.0,115.6 123.5,115.2 124.0,114.9 124.5,114.5 125.0,114.3 125.5,114.1 126.0,113.9 126.5,113.8 127.0,113.8 127.5,113.8 128.0,113.8 128.5,114.0 129.0,114.2 129.5,114.4 130.0,114.7 130.5,115.0 131.0,115.4 131.5,115.8 132.0,116.2 132.5,116.7 133.0,117.1 133.5,117.6 134.0,118.0 134.5,118.5 135.0,118.9 135.5,119.2 136.0,119.6 136.5,119.9 137.0,120.2 137.5,120.4 138.0,120.7 138.5,121.0 139.0,121.2 139.5,121.5 140.0,121.8 140.5,122.2 141.0,122.6 141.5,123.0 142.0,123.5 142.5,124.0 143.0,124.6 143.5,125.1 144.0,125.7 144.5,126.4 145.0,127.0 145.5,127.7 146.0,128.4 146.5,129.1 147.0,129.7 147.5,130.5 148.0,131.2 148.5,131.9 149.0,132.6 149.5,133.5 150.0,134.5 150.5,135.8 151.0,137.2 151.5,138.9 152.0,140.8 152.5,142.6 153.0,144.4 153.5,146.0 154.0,147.6 154.5,149.0 155.0,150.4 155.5,151.7 156.0,153.1 156.5,154.4 157.0,155.7 157.5,157.1 158.0,158.6 158.5,160.2 159.0,161.8 159.5,163.5 160.0,165.2 160.5,166.9 161.0,168.6 161.5,170.2 162.0,171.7 162.5,173.1 163.0,174.4 163.5,175.6 164.0,176.6 164.5,177.4 165.0,178.2 165.5,178.8 166.0,179.3 166.5,179.8 167.0,180.2 167.5,180.6 168.0,180.9 168.5,181.2 169.0,181.4 169.5,181.5 170.0,181.6 170.5,181.7 171.0,181.7 171.5,181.7 172.0,181.7 172.5,181.6 173.0,181.5 173.5,181.4 174.0,181.2 174.5,181.1 175.0,180.9 175.5,180.7 176.0,180.5 176.5,180.3 177.0,180.1 177.5,179.9 178.0,179.7 178.5,179.4 179.0,179.2 179.5,178.9 180.0,178.7 180.5,178.4 181.0,178.1 181.5,177.9 182.0,177.6 182.5,177.3 183.0,177.0 183.5,176.7 184.0,176.4 184.5,176.1 185.0,175.8 185.5,175.5 186.0,175.2 186.5,174.9 187.0,174.5 187.5,174.2 188.0,173.9 188.5,173.6 189.0,173.3 189.5,172.9 190.0,172.6 190.5,172.3 191.0,172.0 191.5,171.7 192.0,171.4 192.5,171.1 193.0,170.8 193.5,170.6 194.0,170.3 194.5,170.1 195.0,169.8 195.5,169.6 196.0,169.4 196.5,169.2 197.0,169.1 197.5,168.9 198.0,168.8 198.5,168.7 199.0,168.6 199.5,168.5 200.0,168.5 200.5,168.4 201.0,168.4 201.5,168.5 202.0,168.5 202.5,168.6 203.0,168.7 203.5,168.8 204.0,169.0 204.5,169.1 205.0,169.3 205.5,169.5 206.0,169.7 206.5,170.0 207.0,170.3 207.5,170.5 208.0,170.9 208.5,171.2 209.0,171.5 209.5,171.9 210.0,172.3 210.5,172.7 211.0,173.1 211.5,173.5 212.0,173.9 212.5,174.4 213.0,174.9 213.5,175.3 214.0,175.8 214.5,176.3 215.0,176.8 215.5,177.3 216.0,177.8 216.5,178.3 217.0,178.8 217.5,179.3 218.0,179.8 218.5,180.3 219.0,180.7 219.5,181.2 220.0,181.7 220.5,182.1 221.0,182.6 221.5,183.0 222.0,183.4 222.5,183.8 223.0,184.2 223.5,184.5 224.0,184.9 224.5,185.2 225.0,185.5 225.5,185.9 226.0,186.2 226.5,186.5 227.0,186.7 227.5,187.0 228.0,187.3 228.5,187.5 229.0,187.8 229.5,188.0 230.0,188.2 230.5,188.4 231.0,188.7 231.5,188.9 232.0,189.1 232.5,189.2 233.0,189.4 233.5,189.6 234.0,189.8 234.5,189.9 235.0,190.1 235.5,190.3 236.0,190.4 236.5,190.6 237.0,190.7 237.5,190.8 238.0,191.0 238.5,191.1 239.0,191.2 239.5,191.4 240.0,191.5 240.5,191.6 241.0,191.7 241.5,191.9 242.0,192.0 242.5,192.1 243.0,192.2 243.5,192.3 244.0,192.4 244.5,192.5 245.0,192.6 245.5,192.7 246.0,192.8 246.5,192.9 247.0,193.0 247.5,193.1 248.0,193.2 248.5,193.3 249.0,193.4 249.5,193.5 250.0,193.5 250.5,193.6 251.0,193.7 251.5,193.8 252.0,193.9 252.5,193.9 253.0,194.0 253.5,194.1 254.0,194.1 254.5,194.2 255.0,194.3 255.5,194.3 256.0,194.4 256.5,194.4 257.0,194.5 257.5,194.6 258.0,194.6 258.5,194.7 259.0,194.7 259.5,194.8 260.0,194.8 260.5,194.9 261.0,194.9 261.5,195.0 262.0,195.0 262.5,195.1 263.0,195.1 263.5,195.1 264.0,195.2 264.5,195.2 265.0,195.2 265.5,195.3 266.0,195.3 266.5,195.4 267.0,195.4 267.5,195.4 268.0,195.5 268.5,195.5 269.0,195.5 269.5,195.5 270.0,195.6 270.5,195.6 271.0,195.6 271.5,195.6 272.0,195.7 272.5,195.7 273.0,195.7 273.5,195.7 274.0,195.8 274.5,195.8 275.0,195.8 275.5,195.8 276.0,195.9 276.5,195.9 277.0,195.9 277.5,195.9 278.0,195.9 278.5,196.0 279.0,196.0 279.5,196.0 280.0,196.0 280.5,196.0 281.0,196.0 281.5,196.1 282.0,196.1 282.5,196.1 283.0,196.1 283.5,196.1 284.0,196.2 284.5,196.2 285.0,196.2 285.5,196.2 286.0,196.2 286.5,196.2 287.0,196.3 287.5,196.3 288.0,196.3 288.5,196.3 289.0,196.3 289.5,196.4 290.0,196.4 290.5,196.4 291.0,196.4 291.5,196.4 292.0,196.5 292.5,196.5 293.0,196.5 293.5,196.5 294.0,196.6 294.5,196.6 295.0,196.6 295.5,196.6 296.0,196.7 296.5,196.7 297.0,196.7 297.5,196.7 298.0,196.8 298.5,196.8 299.0,196.8 299.5,196.9 300.0,196.9 300.5,196.9 301.0,197.0 301.5,197.0 302.0,197.0 302.5,197.1 303.0,197.1 303.5,197.2 304.0,197.2 304.5,197.3 305.0,197.3 305.5,197.3 306.0,197.4 306.5,197.4 307.0,197.5 307.5,197.5 308.0,197.6 308.5,197.6 309.0,197.7 309.5,197.8 310.0,197.8 310.5,197.9 311.0,197.9 311.5,198.0 312.0,198.1 312.5,198.1 313.0,198.2 313.5,198.3 314.0,198.3 314.5,198.4 315.0,198.5 315.5,198.6 316.0,198.6 316.5,198.7 317.0,198.8 317.5,198.9 318.0,199.0 318.5,199.1" fill="none" stroke="#000" stroke-width="1.6" stroke-linejoin="round"/>
<path d="M48.0,198.0 49.0,198.0 50.0,197.9 51.0,197.9 52.0,197.8 53.0,197.8 54.0,197.7 55.0,197.6 56.0,197.6 57.0,197.5 58.0,197.4 59.0,197.3 60.0,197.2 61.0,197.1 62.0,196.9 63.0,196.8 64.0,196.6 65.0,196.5 66.0,196.3 67.0,196.1 68.0,195.9 69.0,195.6 70.0,195.4 71.0,195.1 72.0,194.8 73.0,194.5 74.0,194.1 75.0,193.8 76.0,193.4 77.0,192.9 78.0,192.5 79.0,192.0 80.0,191.5 81.0,190.9 82.0,190.3 83.0,189.6 84.0,188.9 85.0,188.2 86.0,187.4 87.0,186.6 88.0,185.7 89.0,184.7 90.0,183.7 91.0,182.7 92.0,181.6 93.0,180.4 94.0,179.2 95.0,177.9 96.0,176.6 97.0,175.2 98.0,173.7 99.0,172.2 100.0,170.7 101.0,169.1 102.0,167.5 103.0,165.8 104.0,164.1 105.0,162.4 106.0,160.7 107.0,159.0 108.0,157.3 109.0,155.7 110.0,154.1 111.0,152.5 112.0,151.1 113.0,149.7 114.0,148.4 115.0,147.3 116.0,146.4 117.0,145.6 118.0,145.0 119.0,144.6 120.0,144.4 121.0,144.5 122.0,144.8 123.0,145.4 124.0,146.3 125.0,147.5 126.0,148.9 127.0,150.5 128.0,152.4 129.0,154.6 130.0,156.9 131.0,159.4 132.0,162.1 133.0,164.8 134.0,167.6 135.0,170.5 136.0,173.3 137.0,176.1 138.0,178.8 139.0,181.3 140.0,183.8 141.0,186.0 142.0,188.0 143.0,189.8 144.0,191.4 145.0,192.8 146.0,194.0 147.0,195.0 148.0,195.8 149.0,196.5 150.0,197.0 151.0,197.4 152.0,197.7 153.0,197.9 154.0,198.1 155.0,198.2 156.0,198.3 157.0,198.3 158.0,198.4 159.0,198.4 160.0,198.4 161.0,198.4 162.0,198.4 163.0,198.4 164.0,198.4 165.0,198.4 166.0,198.4 167.0,198.4 168.0,198.4 169.0,198.4 170.0,198.4 171.0,198.4 172.0,198.4 173.0,198.4 174.0,198.4 175.0,198.4 176.0,198.4 177.0,198.4 178.0,198.4 179.0,198.4 180.0,198.4 181.0,198.4 182.0,198.4 183.0,198.4 184.0,198.4 185.0,198.4 186.0,198.4 187.0,198.4 188.0,198.4 189.0,198.4 190.0,198.4 191.0,198.4 192.0,198.4 193.0,198.4 194.0,198.4 195.0,198.4 196.0,198.4 197.0,198.4 198.0,198.4 199.0,198.4 200.0,198.4 201.0,198.4 202.0,198.4 203.0,198.4 204.0,198.4 205.0,198.4 206.0,198.4 207.0,198.4 208.0,198.4 209.0,198.4 210.0,198.4 211.0,198.4 212.0,198.4 213.0,198.4 214.0,198.4 215.0,198.4 216.0,198.4 217.0,198.4 218.0,198.4 219.0,198.4 220.0,198.4 221.0,198.4 222.0,198.4 223.0,198.4 224.0,198.4 225.0,198.4 226.0,198.4 227.0,198.4 228.0,198.4 229.0,198.4 230.0,198.4 231.0,198.4 232.0,198.4 233.0,198.4 234.0,198.4 235.0,198.4 236.0,198.4 237.0,198.4 238.0,198.4 239.0,198.4 240.0,198.4 241.0,198.4 242.0,198.4 243.0,198.4 244.0,198.4 245.0,198.4 246.0,198.4 247.0,198.4 248.0,198.4 249.0,198.4 250.0,198.4 251.0,198.4 252.0,198.4 253.0,198.4 254.0,198.4 255.0,198.4 256.0,198.4 257.0,198.4 258.0,198.4 259.0,198.4 260.0,198.4 261.0,198.4 262.0,198.4 263.0,198.4 264.0,198.4 265.0,198.4 266.0,198.4 267.0,198.4 268.0,198.4 269.0,198.4 270.0,198.4 271.0,198.4 272.0,198.4 273.0,198.4 274.0,198.4 275.0,198.4 276.0,198.4 277.0,198.4 278.0,198.4 279.0,198.4 280.0,198.4 281.0,198.4 282.0,198.4 283.0,198.4 284.0,198.4 285.0,198.4 286.0,198.4 287.0,198.4 288.0,198.4 289.0,198.4 290.0,198.4 291.0,198.4 292.0,198.4 293.0,198.4 294.0,198.4 295.0,198.4 296.0,198.4 297.0,198.4 298.0,198.4 299.0,198.4 300.0,198.4 301.0,198.4 302.0,198.4 303.0,198.4 304.0,198.4 305.0,198.4 306.0,198.4 307.0,198.4 308.0,198.4 309.0,198.4 310.0,198.4 311.0,198.4 312.0,198.4 313.0,198.4 314.0,198.4 315.0,198.4 316.0,198.4 317.0,198.4 318.0,198.4" fill="none" stroke="#ff0000" stroke-width="2" stroke-dasharray="7 4" stroke-linejoin="round"/>
<path d="M48.0,198.4 49.0,198.3 50.0,198.3 51.0,198.3 52.0,198.3 53.0,198.3 54.0,198.3 55.0,198.3 56.0,198.3 57.0,198.3 58.0,198.3 59.0,198.2 60.0,198.2 61.0,198.2 62.0,198.2 63.0,198.2 64.0,198.1 65.0,198.1 66.0,198.1 67.0,198.0 68.0,198.0 69.0,197.9 70.0,197.9 71.0,197.9 72.0,197.8 73.0,197.7 74.0,197.7 75.0,197.6 76.0,197.5 77.0,197.4 78.0,197.3 79.0,197.2 80.0,197.1 81.0,197.0 82.0,196.9 83.0,196.7 84.0,196.6 85.0,196.4 86.0,196.2 87.0,196.0 88.0,195.8 89.0,195.6 90.0,195.4 91.0,195.1 92.0,194.8 93.0,194.5 94.0,194.2 95.0,193.8 96.0,193.4 97.0,193.0 98.0,192.6 99.0,192.1 100.0,191.6 101.0,191.0 102.0,190.4 103.0,189.8 104.0,189.2 105.0,188.4 106.0,187.7 107.0,186.9 108.0,186.0 109.0,185.1 110.0,184.2 111.0,183.2 112.0,182.1 113.0,181.0 114.0,179.8 115.0,178.6 116.0,177.3 117.0,175.9 118.0,174.5 119.0,173.0 120.0,171.5 121.0,169.9 122.0,168.3 123.0,166.6 124.0,164.9 125.0,163.2 126.0,161.4 127.0,159.6 128.0,157.8 129.0,156.0 130.0,154.2 131.0,152.4 132.0,150.7 133.0,149.0 134.0,147.4 135.0,145.9 136.0,144.5 137.0,143.2 138.0,142.1 139.0,141.1 140.0,140.3 141.0,139.7 142.0,139.3 143.0,139.2 144.0,139.3 145.0,139.7 146.0,140.4 147.0,141.3 148.0,142.5 149.0,144.0 150.0,145.7 151.0,147.7 152.0,149.9 153.0,152.4 154.0,155.0 155.0,157.8 156.0,160.7 157.0,163.7 158.0,166.7 159.0,169.7 160.0,172.7 161.0,175.6 162.0,178.4 163.0,181.0 164.0,183.5 165.0,185.8 166.0,187.8 167.0,189.7 168.0,191.3 169.0,192.7 170.0,193.9 171.0,194.9 172.0,195.7 173.0,196.4 174.0,196.9 175.0,197.3 176.0,197.7 177.0,197.9 178.0,198.1 179.0,198.2 180.0,198.3 181.0,198.3 182.0,198.3 183.0,198.4 184.0,198.4 185.0,198.4 186.0,198.4 187.0,198.4 188.0,198.4 189.0,198.4 190.0,198.4 191.0,198.4 192.0,198.4 193.0,198.4 194.0,198.4 195.0,198.4 196.0,198.4 197.0,198.4 198.0,198.4 199.0,198.4 200.0,198.4 201.0,198.4 202.0,198.4 203.0,198.4 204.0,198.4 205.0,198.4 206.0,198.4 207.0,198.4 208.0,198.4 209.0,198.4 210.0,198.4 211.0,198.4 212.0,198.4 213.0,198.4 214.0,198.4 215.0,198.4 216.0,198.4 217.0,198.4 218.0,198.4 219.0,198.4 220.0,198.4 221.0,198.4 222.0,198.4 223.0,198.4 224.0,198.4 225.0,198.4 226.0,198.4 227.0,198.4 228.0,198.4 229.0,198.4 230.0,198.4 231.0,198.4 232.0,198.4 233.0,198.4 234.0,198.4 235.0,198.4 236.0,198.4 237.0,198.4 238.0,198.4 239.0,198.4 240.0,198.4 241.0,198.4 242.0,198.4 243.0,198.4 244.0,198.4 245.0,198.4 246.0,198.4 247.0,198.4 248.0,198.4 249.0,198.4 250.0,198.4 251.0,198.4 252.0,198.4 253.0,198.4 254.0,198.4 255.0,198.4 256.0,198.4 257.0,198.4 258.0,198.4 259.0,198.4 260.0,198.4 261.0,198.4 262.0,198.4 263.0,198.4 264.0,198.4 265.0,198.4 266.0,198.4 267.0,198.4 268.0,198.4 269.0,198.4 270.0,198.4 271.0,198.4 272.0,198.4 273.0,198.4 274.0,198.4 275.0,198.4 276.0,198.4 277.0,198.4 278.0,198.4 279.0,198.4 280.0,198.4 281.0,198.4 282.0,198.4 283.0,198.4 284.0,198.4 285.0,198.4 286.0,198.4 287.0,198.4 288.0,198.4 289.0,198.4 290.0,198.4 291.0,198.4 292.0,198.4 293.0,198.4 294.0,198.4 295.0,198.4 296.0,198.4 297.0,198.4 298.0,198.4 299.0,198.4 300.0,198.4 301.0,198.4 302.0,198.4 303.0,198.4 304.0,198.4 305.0,198.4 306.0,198.4 307.0,198.4 308.0,198.4 309.0,198.4 310.0,198.4 311.0,198.4 312.0,198.4 313.0,198.4 314.0,198.4 315.0,198.4 316.0,198.4 317.0,198.4 318.0,198.4" fill="none" stroke="#00ff00" stroke-width="2" stroke-dasharray="7 4" stroke-linejoin="round"/>
<path d="M48.0,198.4 49.0,198.4 50.0,198.4 51.0,198.4 52.0,198.4 53.0,198.4 54.0,198.4 55.0,198.4 56.0,198.4 57.0,198.4 58.0,198.4 59.0,198.4 60.0,198.4 61.0,198.4 62.0,198.4 63.0,198.4 64.0,198.4 65.0,198.4 66.0,198.4 67.0,198.4 68.0,198.4 69.0,198.4 70.0,198.4 71.0,198.4 72.0,198.4 73.0,198.4 74.0,198.4 75.0,198.4 76.0,198.4 77.0,198.4 78.0,198.4 79.0,198.4 80.0,198.4 81.0,198.4 82.0,198.4 83.0,198.4 84.0,198.4 85.0,198.4 86.0,198.4 87.0,198.4 88.0,198.4 89.0,198.4 90.0,198.4 91.0,198.4 92.0,198.4 93.0,198.4 94.0,198.4 95.0,198.4 96.0,198.4 97.0,198.4 98.0,198.3 99.0,198.3 100.0,198.3 101.0,198.3 102.0,198.3 103.0,198.3 104.0,198.3 105.0,198.3 106.0,198.3 107.0,198.3 108.0,198.3 109.0,198.3 110.0,198.2 111.0,198.2 112.0,198.2 113.0,198.2 114.0,198.2 115.0,198.2 116.0,198.1 117.0,198.1 118.0,198.1 119.0,198.1 120.0,198.0 121.0,198.0 122.0,198.0 123.0,197.9 124.0,197.9 125.0,197.9 126.0,197.8 127.0,197.8 128.0,197.7 129.0,197.7 130.0,197.6 131.0,197.6 132.0,197.5 133.0,197.4 134.0,197.3 135.0,197.3 136.0,197.2 137.0,197.1 138.0,197.0 139.0,196.9 140.0,196.8 141.0,196.7 142.0,196.5 143.0,196.4 144.0,196.2 145.0,196.1 146.0,195.9 147.0,195.8 148.0,195.6 149.0,195.4 150.0,195.2 151.0,195.0 152.0,194.7 153.0,194.5 154.0,194.2 155.0,193.9 156.0,193.7 157.0,193.3 158.0,193.0 159.0,192.7 160.0,192.3 161.0,192.0 162.0,191.6 163.0,191.2 164.0,190.7 165.0,190.3 166.0,189.8 167.0,189.3 168.0,188.8 169.0,188.3 170.0,187.8 171.0,187.2 172.0,186.6 173.0,186.0 174.0,185.4 175.0,184.7 176.0,184.1 177.0,183.4 178.0,182.7 179.0,182.0 180.0,181.3 181.0,180.6 182.0,179.9 183.0,179.2 184.0,178.4 185.0,177.7 186.0,177.0 187.0,176.3 188.0,175.6 189.0,175.0 190.0,174.3 191.0,173.7 192.0,173.2 193.0,172.7 194.0,172.2 195.0,171.8 196.0,171.4 197.0,171.1 198.0,170.8 199.0,170.7 200.0,170.6 201.0,170.6 202.0,170.7 203.0,170.9 204.0,171.2 205.0,171.5 206.0,172.0 207.0,172.5 208.0,173.2 209.0,173.9 210.0,174.7 211.0,175.6 212.0,176.6 213.0,177.6 214.0,178.7 215.0,179.9 216.0,181.0 217.0,182.2 218.0,183.4 219.0,184.6 220.0,185.8 221.0,187.0 222.0,188.1 223.0,189.2 224.0,190.3 225.0,191.3 226.0,192.2 227.0,193.0 228.0,193.8 229.0,194.5 230.0,195.2 231.0,195.7 232.0,196.2 233.0,196.6 234.0,197.0 235.0,197.3 236.0,197.5 237.0,197.7 238.0,197.9 239.0,198.0 240.0,198.1 241.0,198.2 242.0,198.3 243.0,198.3 244.0,198.3 245.0,198.4 246.0,198.4 247.0,198.4 248.0,198.4 249.0,198.4 250.0,198.4 251.0,198.4 252.0,198.4 253.0,198.4 254.0,198.4 255.0,198.4 256.0,198.4 257.0,198.4 258.0,198.4 259.0,198.4 260.0,198.4 261.0,198.4 262.0,198.4 263.0,198.4 264.0,198.4 265.0,198.4 266.0,198.4 267.0,198.4 268.0,198.4 269.0,198.4 270.0,198.4 271.0,198.4 272.0,198.4 273.0,198.4 274.0,198.4 275.0,198.4 276.0,198.4 277.0,198.4 278.0,198.4 279.0,198.4 280.0,198.4 281.0,198.4 282.0,198.4 283.0,198.4 284.0,198.4 285.0,198.4 286.0,198.4 287.0,198.4 288.0,198.4 289.0,198.4 290.0,198.4 291.0,198.4 292.0,198.4 293.0,198.4 294.0,198.4 295.0,198.4 296.0,198.4 297.0,198.4 298.0,198.4 299.0,198.4 300.0,198.4 301.0,198.4 302.0,198.4 303.0,198.4 304.0,198.4 305.0,198.4 306.0,198.4 307.0,198.4 308.0,198.4 309.0,198.4 310.0,198.4 311.0,198.4 312.0,198.4 313.0,198.4 314.0,198.4 315.0,198.4 316.0,198.4 317.0,198.4 318.0,198.4" fill="none" stroke="#0000ff" stroke-width="2" stroke-dasharray="7 4" stroke-linejoin="round"/>
<path d="M48.0,198.4 49.0,198.4 50.0,198.4 51.0,198.4 52.0,198.4 53.0,198.4 54.0,198.4 55.0,198.4 56.0,198.4 57.0,198.4 58.0,198.4 59.0,198.4 60.0,198.4 61.0,198.4 62.0,198.4 63.0,198.4 64.0,198.4 65.0,198.4 66.0,198.4 67.0,198.4 68.0,198.4 69.0,198.4 70.0,198.4 71.0,198.4 72.0,198.4 73.0,198.4 74.0,198.4 75.0,198.4 76.0,198.4 77.0,198.4 78.0,198.4 79.0,198.4 80.0,198.4 81.0,198.4 82.0,198.4 83.0,198.4 84.0,198.4 85.0,198.4 86.0,198.4 87.0,198.4 88.0,198.4 89.0,198.4 90.0,198.4 91.0,198.4 92.0,198.4 93.0,198.4 94.0,198.4 95.0,198.4 96.0,198.4 97.0,198.4 98.0,198.4 99.0,198.4 100.0,198.4 101.0,198.4 102.0,198.4 103.0,198.4 104.0,198.4 105.0,198.4 106.0,198.4 107.0,198.4 108.0,198.4 109.0,198.4 110.0,198.4 111.0,198.4 112.0,198.4 113.0,198.4 114.0,198.4 115.0,198.4 116.0,198.4 117.0,198.4 118.0,198.4 119.0,198.4 120.0,198.4 121.0,198.4 122.0,198.4 123.0,198.4 124.0,198.4 125.0,198.4 126.0,198.4 127.0,198.4 128.0,198.4 129.0,198.4 130.0,198.4 131.0,198.4 132.0,198.4 133.0,198.4 134.0,198.4 135.0,198.4 136.0,198.4 137.0,198.4 138.0,198.4 139.0,198.4 140.0,198.4 141.0,198.4 142.0,198.4 143.0,198.4 144.0,198.4 145.0,198.4 146.0,198.4 147.0,198.4 148.0,198.3 149.0,198.3 150.0,198.3 151.0,198.3 152.0,198.3 153.0,198.3 154.0,198.3 155.0,198.3 156.0,198.3 157.0,198.3 158.0,198.3 159.0,198.3 160.0,198.3 161.0,198.3 162.0,198.3 163.0,198.2 164.0,198.2 165.0,198.2 166.0,198.2 167.0,198.2 168.0,198.2 169.0,198.2 170.0,198.2 171.0,198.1 172.0,198.1 173.0,198.1 174.0,198.1 175.0,198.1 176.0,198.0 177.0,198.0 178.0,198.0 179.0,198.0 180.0,197.9 181.0,197.9 182.0,197.9 183.0,197.8 184.0,197.8 185.0,197.7 186.0,197.7 187.0,197.7 188.0,197.6 189.0,197.6 190.0,197.5 191.0,197.5 192.0,197.4 193.0,197.4 194.0,197.3 195.0,197.2 196.0,197.2 197.0,197.1 198.0,197.0 199.0,196.9 200.0,196.9 201.0,196.8 202.0,196.7 203.0,196.6 204.0,196.5 205.0,196.4 206.0,196.3 207.0,196.2 208.0,196.1 209.0,196.0 210.0,195.9 211.0,195.7 212.0,195.6 213.0,195.5 214.0,195.4 215.0,195.2 216.0,195.1 217.0,195.0 218.0,194.8 219.0,194.7 220.0,194.5 221.0,194.4 222.0,194.3 223.0,194.1 224.0,194.0 225.0,193.8 226.0,193.7 227.0,193.5 228.0,193.4 229.0,193.3 230.0,193.1 231.0,193.0 232.0,192.9 233.0,192.8 234.0,192.7 235.0,192.6 236.0,192.5 237.0,192.5 238.0,192.4 239.0,192.4 240.0,192.3 241.0,192.3 242.0,192.3 243.0,192.3 244.0,192.4 245.0,192.4 246.0,192.5 247.0,192.6 248.0,192.7 249.0,192.8 250.0,192.9 251.0,193.1 252.0,193.2 253.0,193.4 254.0,193.6 255.0,193.8 256.0,194.0 257.0,194.2 258.0,194.5 259.0,194.7 260.0,194.9 261.0,195.2 262.0,195.4 263.0,195.7 264.0,195.9 265.0,196.1 266.0,196.4 267.0,196.6 268.0,196.8 269.0,197.0 270.0,197.1 271.0,197.3 272.0,197.4 273.0,197.6 274.0,197.7 275.0,197.8 276.0,197.9 277.0,198.0 278.0,198.1 279.0,198.1 280.0,198.2 281.0,198.2 282.0,198.3 283.0,198.3 284.0,198.3 285.0,198.3 286.0,198.4 287.0,198.4 288.0,198.4 289.0,198.4 290.0,198.4 291.0,198.4 292.0,198.4 293.0,198.4 294.0,198.4 295.0,198.4 296.0,198.4 297.0,198.4 298.0,198.4 299.0,198.4 300.0,198.4 301.0,198.4 302.0,198.4 303.0,198.4 304.0,198.4 305.0,198.4 306.0,198.4 307.0,198.4 308.0,198.4 309.0,198.4 310.0,198.4 311.0,198.4 312.0,198.4 313.0,198.4 314.0,198.4 315.0,198.4 316.0,198.4 317.0,198.4 318.0,198.4" fill="none" stroke="#00ffff" stroke-width="2" stroke-dasharray="7 4" stroke-linejoin="round"/>
<path d="M48.0,198.4 49.0,198.4 50.0,198.4 51.0,198.4 52.0,198.4 53.0,198.4 54.0,198.4 55.0,198.4 56.0,198.4 57.0,198.4 58.0,198.4 59.0,198.4 60.0,198.4 61.0,198.4 62.0,198.4 63.0,198.4 64.0,198.4 65.0,198.4 66.0,198.4 67.0,198.4 68.0,198.4 69.0,198.4 70.0,198.4 71.0,198.4 72.0,198.4 73.0,198.4 74.0,198.4 75.0,198.4 76.0,198.4 77.0,198.4 78.0,198.4 79.0,198.4 80.0,198.4 81.0,198.4 82.0,198.4 83.0,198.4 84.0,198.4 85.0,198.4 86.0,198.4 87.0,198.4 88.0,198.4 89.0,198.4 90.0,198.4 91.0,198.4 92.0,198.4 93.0,198.4 94.0,198.4 95.0,198.4 96.0,198.4 97.0,198.4 98.0,198.4 99.0,198.4 100.0,198.4 101.0,198.4 102.0,198.4 103.0,198.4 104.0,198.4 105.0,198.4 106.0,198.4 107.0,198.4 108.0,198.4 109.0,198.4 110.0,198.4 111.0,198.4 112.0,198.4 113.0,198.4 114.0,198.4 115.0,198.4 116.0,198.4 117.0,198.4 118.0,198.4 119.0,198.4 120.0,198.4 121.0,198.4 122.0,198.4 123.0,198.4 124.0,198.4 125.0,198.4 126.0,198.4 127.0,198.4 128.0,198.4 129.0,198.4 130.0,198.4 131.0,198.4 132.0,198.4 133.0,198.4 134.0,198.4 135.0,198.4 136.0,198.4 137.0,198.4 138.0,198.4 139.0,198.4 140.0,198.4 141.0,198.4 142.0,198.4 143.0,198.4 144.0,198.4 145.0,198.4 146.0,198.4 147.0,198.4 148.0,198.4 149.0,198.4 150.0,198.4 151.0,198.4 152.0,198.4 153.0,198.4 154.0,198.4 155.0,198.4 156.0,198.4 157.0,198.4 158.0,198.4 159.0,198.4 160.0,198.4 161.0,198.4 162.0,198.4 163.0,198.4 164.0,198.4 165.0,198.4 166.0,198.4 167.0,198.4 168.0,198.4 169.0,198.4 170.0,198.4 171.0,198.4 172.0,198.4 173.0,198.4 174.0,198.4 175.0,198.4 176.0,198.4 177.0,198.4 178.0,198.4 179.0,198.4 180.0,198.4 181.0,198.4 182.0,198.4 183.0,198.4 184.0,198.4 185.0,198.4 186.0,198.4 187.0,198.4 188.0,198.4 189.0,198.4 190.0,198.4 191.0,198.4 192.0,198.4 193.0,198.4 194.0,198.4 195.0,198.4 196.0,198.4 197.0,198.4 198.0,198.4 199.0,198.4 200.0,198.4 201.0,198.4 202.0,198.4 203.0,198.4 204.0,198.4 205.0,198.4 206.0,198.4 207.0,198.4 208.0,198.4 209.0,198.4 210.0,198.4 211.0,198.4 212.0,198.4 213.0,198.4 214.0,198.4 215.0,198.4 216.0,198.4 217.0,198.4 218.0,198.4 219.0,198.4 220.0,198.4 221.0,198.4 222.0,198.4 223.0,198.4 224.0,198.3 225.0,198.3 226.0,198.3 227.0,198.3 228.0,198.3 229.0,198.3 230.0,198.3 231.0,198.3 232.0,198.3 233.0,198.3 234.0,198.3 235.0,198.3 236.0,198.3 237.0,198.3 238.0,198.2 239.0,198.2 240.0,198.2 241.0,198.2 242.0,198.2 243.0,198.2 244.0,198.2 245.0,198.1 246.0,198.1 247.0,198.1 248.0,198.1 249.0,198.1 250.0,198.0 251.0,198.0 252.0,198.0 253.0,198.0 254.0,197.9 255.0,197.9 256.0,197.9 257.0,197.8 258.0,197.8 259.0,197.8 260.0,197.7 261.0,197.7 262.0,197.6 263.0,197.6 264.0,197.5 265.0,197.5 266.0,197.4 267.0,197.4 268.0,197.3 269.0,197.3 270.0,197.2 271.0,197.2 272.0,197.1 273.0,197.0 274.0,197.0 275.0,196.9 276.0,196.9 277.0,196.8 278.0,196.8 279.0,196.7 280.0,196.7 281.0,196.6 282.0,196.6 283.0,196.5 284.0,196.5 285.0,196.5 286.0,196.4 287.0,196.4 288.0,196.4 289.0,196.4 290.0,196.4 291.0,196.4 292.0,196.5 293.0,196.5 294.0,196.5 295.0,196.6 296.0,196.6 297.0,196.7 298.0,196.8 299.0,196.9 300.0,197.0 301.0,197.0 302.0,197.1 303.0,197.2 304.0,197.3 305.0,197.4 306.0,197.5 307.0,197.6 308.0,197.7 309.0,197.8 310.0,197.9 311.0,198.0 312.0,198.1 313.0,198.1 314.0,198.2 315.0,198.2 316.0,198.3 317.0,198.3 318.0,198.3" fill="none" stroke="#ff00ff" stroke-width="2" stroke-dasharray="7 4" stroke-linejoin="round"/>
<path d="M48.0,295.2 48.5,295.1 49.0,295.1 49.5,295.0 50.0,295.0 50.5,295.0 51.0,294.9 51.5,294.9 52.0,294.8 52.5,294.8 53.0,294.8 53.5,294.7 54.0,294.7 54.5,294.7 55.0,294.6 55.5,294.6 56.0,294.6 56.5,294.5 57.0,294.5 57.5,294.4 58.0,294.4 58.5,294.3 59.0,294.2 59.5,294.2 60.0,294.1 60.5,294.0 61.0,293.9 61.5,293.9 62.0,293.8 62.5,293.7 63.0,293.5 63.5,293.4 64.0,293.3 64.5,293.2 65.0,293.0 65.5,292.9 66.0,292.7 66.5,292.5 67.0,292.3 67.5,292.1 68.0,291.9 68.5,291.7 69.0,291.5 69.5,291.2 70.0,291.0 70.5,290.7 71.0,290.4 71.5,290.1 72.0,289.8 72.5,289.5 73.0,289.1 73.5,288.8 74.0,288.4 74.5,288.1 75.0,287.7 75.5,287.3 76.0,286.9 76.5,286.5 77.0,286.1 77.5,285.7 78.0,285.2 78.5,284.8 79.0,284.3 79.5,283.9 80.0,283.4 80.5,282.9 81.0,282.5 81.5,282.0 82.0,281.5 82.5,281.0 83.0,280.5 83.5,280.0 84.0,279.5 84.5,278.9 85.0,278.4 85.5,277.9 86.0,277.3 86.5,276.8 87.0,276.2 87.5,275.6 88.0,275.0 88.5,274.4 89.0,273.8 89.5,273.1 90.0,272.4 90.5,271.8 91.0,271.1 91.5,270.3 92.0,269.6 92.5,268.8 93.0,268.0 93.5,267.2 94.0,266.3 94.5,265.4 95.0,264.5 95.5,263.6 96.0,262.6 96.5,261.6 97.0,260.5 97.5,259.5 98.0,258.3 98.5,257.2 99.0,256.0 99.5,254.8 100.0,253.5 100.5,252.2 101.0,250.9 101.5,249.5 102.0,248.2 102.5,246.8 103.0,245.3 103.5,243.9 104.0,242.5 104.5,241.0 105.0,239.6 105.5,238.1 106.0,236.6 106.5,235.2 107.0,233.7 107.5,232.3 108.0,230.8 108.5,229.3 109.0,227.8 109.5,226.1 110.0,224.4 110.5,222.6 111.0,220.8 111.5,219.1 112.0,217.4 112.5,215.9 113.0,214.5 113.5,213.3 114.0,212.1 114.5,211.1 115.0,210.2 115.5,209.4 116.0,208.7 116.5,208.0 117.0,207.5 117.5,207.0 118.0,206.6 118.5,206.2 119.0,206.0 119.5,205.7 120.0,205.6 120.5,205.5 121.0,205.5 121.5,205.6 122.0,205.7 122.5,205.9 123.0,206.3 123.5,206.7 124.0,207.2 124.5,207.8 125.0,208.5 125.5,209.3 126.0,210.2 126.5,211.1 127.0,212.2 127.5,213.3 128.0,214.5 128.5,215.7 129.0,217.1 129.5,218.4 130.0,219.9 130.5,221.4 131.0,222.9 131.5,224.5 132.0,226.1 132.5,227.8 133.0,229.5 133.5,231.2 134.0,233.0 134.5,234.8 135.0,236.6 135.5,238.5 136.0,240.3 136.5,242.2 137.0,244.1 137.5,245.9 138.0,247.8 138.5,249.7 139.0,251.6 139.5,253.4 140.0,255.3 140.5,257.1 141.0,258.9 141.5,260.7 142.0,262.4 142.5,264.2 143.0,265.8 143.5,267.4 144.0,268.9 144.5,270.4 145.0,271.8 145.5,273.1 146.0,274.4 146.5,275.5 147.0,276.6 147.5,277.6 148.0,278.7 148.5,279.9 149.0,281.1 149.5,282.5 150.0,283.8 150.5,285.1 151.0,286.1 151.5,287.0 152.0,287.7 152.5,288.2 153.0,288.7 153.5,289.0 154.0,289.4 154.5,289.7 155.0,290.0 155.5,290.3 156.0,290.5 156.5,290.7 157.0,290.9 157.5,291.0 158.0,291.2 158.5,291.3 159.0,291.4 159.5,291.5 160.0,291.6 160.5,291.6 161.0,291.7 161.5,291.7 162.0,291.7 162.5,291.7 163.0,291.7 163.5,291.7 164.0,291.7 164.5,291.7 165.0,291.7 165.5,291.7 166.0,291.7 166.5,291.6 167.0,291.6 167.5,291.6 168.0,291.6 168.5,291.5 169.0,291.5 169.5,291.5 170.0,291.5 170.5,291.5 171.0,291.5 171.5,291.5 172.0,291.5 172.5,291.4 173.0,291.4 173.5,291.4 174.0,291.4 174.5,291.4 175.0,291.4 175.5,291.4 176.0,291.4 176.5,291.4 177.0,291.4 177.5,291.4 178.0,291.4 178.5,291.4 179.0,291.4 179.5,291.4 180.0,291.4 180.5,291.4 181.0,291.4 181.5,291.4 182.0,291.4 182.5,291.4 183.0,291.4 183.5,291.4 184.0,291.4 184.5,291.5 185.0,291.5 185.5,291.5 186.0,291.5 186.5,291.5 187.0,291.5 187.5,291.5 188.0,291.5 188.5,291.5 189.0,291.5 189.5,291.6 190.0,291.6 190.5,291.6 191.0,291.6 191.5,291.6 192.0,291.6 192.5,291.6 193.0,291.6 193.5,291.7 194.0,291.7 194.5,291.7 195.0,291.7 195.5,291.7 196.0,291.7 196.5,291.7 197.0,291.8 197.5,291.8 198.0,291.8 198.5,291.8 199.0,291.8 199.5,291.8 200.0,291.9 200.5,291.9 201.0,291.9 201.5,291.9 202.0,291.9 202.5,291.9 203.0,291.9 203.5,292.0 204.0,292.0 204.5,292.0 205.0,292.0 205.5,292.0 206.0,292.0 206.5,292.1 207.0,292.1 207.5,292.1 208.0,292.1 208.5,292.1 209.0,292.1 209.5,292.2 210.0,292.2 210.5,292.2 211.0,292.2 211.5,292.2 212.0,292.2 212.5,292.3 213.0,292.3 213.5,292.3 214.0,292.3 214.5,292.3 215.0,292.4 215.5,292.4 216.0,292.4 216.5,292.4 217.0,292.4 217.5,292.4 218.0,292.5 218.5,292.5 219.0,292.5 219.5,292.5 220.0,292.5 220.5,292.6 221.0,292.6 221.5,292.6 222.0,292.6 222.5,292.6 223.0,292.7 223.5,292.7 224.0,292.7 224.5,292.7 225.0,292.7 225.5,292.8 226.0,292.8 226.5,292.8 227.0,292.8 227.5,292.8 228.0,292.8 228.5,292.9 229.0,292.9 229.5,292.9 230.0,292.9 230.5,292.9 231.0,293.0 231.5,293.0 232.0,293.0 232.5,293.0 233.0,293.0 233.5,293.1 234.0,293.1 234.5,293.1 235.0,293.1 235.5,293.1 236.0,293.2 236.5,293.2 237.0,293.2 237.5,293.2 238.0,293.2 238.5,293.3 239.0,293.3 239.5,293.3 240.0,293.3 240.5,293.4 241.0,293.4 241.5,293.4 242.0,293.4 242.5,293.4 243.0,293.5 243.5,293.5 244.0,293.5 244.5,293.5 245.0,293.5 245.5,293.6 246.0,293.6 246.5,293.6 247.0,293.6 247.5,293.6 248.0,293.7 248.5,293.7 249.0,293.7 249.5,293.7 250.0,293.7 250.5,293.8 251.0,293.8 251.5,293.8 252.0,293.8 252.5,293.8 253.0,293.9 253.5,293.9 254.0,293.9 254.5,293.9 255.0,293.9 255.5,294.0 256.0,294.0 256.5,294.0 257.0,294.0 257.5,294.0 258.0,294.1 258.5,294.1 259.0,294.1 259.5,294.1 260.0,294.1 260.5,294.2 261.0,294.2 261.5,294.2 262.0,294.2 262.5,294.2 263.0,294.3 263.5,294.3 264.0,294.3 264.5,294.3 265.0,294.3 265.5,294.4 266.0,294.4 266.5,294.4 267.0,294.4 267.5,294.4 268.0,294.5 268.5,294.5 269.0,294.5 269.5,294.5 270.0,294.5 270.5,294.6 271.0,294.6 271.5,294.6 272.0,294.6 272.5,294.6 273.0,294.6 273.5,294.7 274.0,294.7 274.5,294.7 275.0,294.7 275.5,294.7 276.0,294.8 276.5,294.8 277.0,294.8 277.5,294.8 278.0,294.8 278.5,294.8 279.0,294.9 279.5,294.9 280.0,294.9 280.5,294.9 281.0,294.9 281.5,294.9 282.0,295.0 282.5,295.0 283.0,295.0 283.5,295.0 284.0,295.0 284.5,295.1 285.0,295.1 285.5,295.1 286.0,295.1 286.5,295.1 287.0,295.1 287.5,295.2 288.0,295.2 288.5,295.2 289.0,295.2 289.5,295.2 290.0,295.2 290.5,295.2 291.0,295.3 291.5,295.3 292.0,295.3 292.5,295.3 293.0,295.3 293.5,295.3 294.0,295.4 294.5,295.4 295.0,295.4 295.5,295.4 296.0,295.4 296.5,295.4 297.0,295.4 297.5,295.5 298.0,295.5 298.5,295.5 299.0,295.5 299.5,295.5 300.0,295.5 300.5,295.5 301.0,295.5 301.5,295.6 302.0,295.6 302.5,295.6 303.0,295.6 303.5,295.6 304.0,295.6 304.5,295.6 305.0,295.6 305.5,295.7 306.0,295.7 306.5,295.7 307.0,295.7 307.5,295.7 308.0,295.7 308.5,295.7 309.0,295.7 309.5,295.7 310.0,295.8 310.5,295.8 311.0,295.8 311.5,295.8 312.0,295.8 312.5,295.8 313.0,295.8 313.5,295.8 314.0,295.8 314.5,295.8 315.0,295.9 315.5,295.9 316.0,295.9 316.5,295.9 317.0,295.9 317.5,295.9 318.0,295.9 318.5,295.9" fill="none" stroke="#000" stroke-width="1.6" stroke-linejoin="round"/>
<path d="M48.0,295.1 49.0,295.1 50.0,295.0 51.0,295.0 52.0,294.9 53.0,294.9 54.0,294.8 55.0,294.7 56.0,294.6 57.0,294.5 58.0,294.4 59.0,294.3 60.0,294.2 61.0,294.0 62.0,293.9 63.0,293.7 64.0,293.5 65.0,293.4 66.0,293.1 67.0,292.9 68.0,292.6 69.0,292.4 70.0,292.1 71.0,291.7 72.0,291.4 73.0,291.0 74.0,290.6 75.0,290.1 76.0,289.6 77.0,289.1 78.0,288.5 79.0,287.9 80.0,287.2 81.0,286.5 82.0,285.7 83.0,284.9 84.0,284.0 85.0,283.1 86.0,282.0 87.0,280.9 88.0,279.8 89.0,278.5 90.0,277.2 91.0,275.8 92.0,274.3 93.0,272.7 94.0,271.1 95.0,269.3 96.0,267.5 97.0,265.6 98.0,263.6 99.0,261.5 100.0,259.4 101.0,257.1 102.0,254.8 103.0,252.5 104.0,250.1 105.0,247.6 106.0,245.2 107.0,242.7 108.0,240.2 109.0,237.8 110.0,235.4 111.0,233.2 112.0,231.0 113.0,228.9 114.0,227.0 115.0,225.3 116.0,223.9 117.0,222.6 118.0,221.7 119.0,221.1 120.0,220.8 121.0,220.9 122.0,221.4 123.0,222.3 124.0,223.6 125.0,225.3 126.0,227.4 127.0,229.9 128.0,232.8 129.0,236.0 130.0,239.5 131.0,243.3 132.0,247.2 133.0,251.3 134.0,255.4 135.0,259.6 136.0,263.6 137.0,267.6 138.0,271.4 139.0,274.9 140.0,278.2 141.0,281.1 142.0,283.8 143.0,286.1 144.0,288.1 145.0,289.8 146.0,291.1 147.0,292.3 148.0,293.1 149.0,293.8 150.0,294.3 151.0,294.7 152.0,295.0 153.0,295.2 154.0,295.3 155.0,295.4 156.0,295.4 157.0,295.5 158.0,295.5 159.0,295.5 160.0,295.5 161.0,295.5 162.0,295.5 163.0,295.5 164.0,295.5 165.0,295.5 166.0,295.5 167.0,295.5 168.0,295.5 169.0,295.5 170.0,295.5 171.0,295.5 172.0,295.5 173.0,295.5 174.0,295.5 175.0,295.5 176.0,295.5 177.0,295.5 178.0,295.5 179.0,295.5 180.0,295.5 181.0,295.5 182.0,295.5 183.0,295.5 184.0,295.5 185.0,295.5 186.0,295.5 187.0,295.5 188.0,295.5 189.0,295.5 190.0,295.5 191.0,295.5 192.0,295.5 193.0,295.5 194.0,295.5 195.0,295.5 196.0,295.5 197.0,295.5 198.0,295.5 199.0,295.5 200.0,295.5 201.0,295.5 202.0,295.5 203.0,295.5 204.0,295.5 205.0,295.5 206.0,295.5 207.0,295.5 208.0,295.5 209.0,295.5 210.0,295.5 211.0,295.5 212.0,295.5 213.0,295.5 214.0,295.5 215.0,295.5 216.0,295.5 217.0,295.5 218.0,295.5 219.0,295.5 220.0,295.5 221.0,295.5 222.0,295.5 223.0,295.5 224.0,295.5 225.0,295.5 226.0,295.5 227.0,295.5 228.0,295.5 229.0,295.5 230.0,295.5 231.0,295.5 232.0,295.5 233.0,295.5 234.0,295.5 235.0,295.5 236.0,295.5 237.0,295.5 238.0,295.5 239.0,295.5 240.0,295.5 241.0,295.5 242.0,295.5 243.0,295.5 244.0,295.5 245.0,295.5 246.0,295.5 247.0,295.5 248.0,295.5 249.0,295.5 250.0,295.5 251.0,295.5 252.0,295.5 253.0,295.5 254.0,295.5 255.0,295.5 256.0,295.5 257.0,295.5 258.0,295.5 259.0,295.5 260.0,295.5 261.0,295.5 262.0,295.5 263.0,295.5 264.0,295.5 265.0,295.5 266.0,295.5 267.0,295.5 268.0,295.5 269.0,295.5 270.0,295.5 271.0,295.5 272.0,295.5 273.0,295.5 274.0,295.5 275.0,295.5 276.0,295.5 277.0,295.5 278.0,295.5 279.0,295.5 280.0,295.5 281.0,295.5 282.0,295.5 283.0,295.5 284.0,295.5 285.0,295.5 286.0,295.5 287.0,295.5 288.0,295.5 289.0,295.5 290.0,295.5 291.0,295.5 292.0,295.5 293.0,295.5 294.0,295.5 295.0,295.5 296.0,295.5 297.0,295.5 298.0,295.5 299.0,295.5 300.0,295.5 301.0,295.5 302.0,295.5 303.0,295.5 304.0,295.5 305.0,295.5 306.0,295.5 307.0,295.5 308.0,295.5 309.0,295.5 310.0,295.5 311.0,295.5 312.0,295.5 313.0,295.5 314.0,295.5 315.0,295.5 316.0,295.5 317.0,295.5 318.0,295.5" fill="none" stroke="#ff0000" stroke-width="2" stroke-dasharray="7 4" stroke-linejoin="round"/>
<path d="M48.0,295.5 49.0,295.5 50.0,295.5 51.0,295.5 52.0,295.5 53.0,295.5 54.0,295.5 55.0,295.5 56.0,295.5 57.0,295.5 58.0,295.4 59.0,295.4 60.0,295.4 61.0,295.4 62.0,295.4 63.0,295.4 64.0,295.4 65.0,295.4 66.0,295.4 67.0,295.3 68.0,295.3 69.0,295.3 70.0,295.3 71.0,295.3 72.0,295.2 73.0,295.2 74.0,295.2 75.0,295.1 76.0,295.1 77.0,295.1 78.0,295.0 79.0,295.0 80.0,294.9 81.0,294.8 82.0,294.8 83.0,294.7 84.0,294.6 85.0,294.5 86.0,294.4 87.0,294.3 88.0,294.2 89.0,294.1 90.0,293.9 91.0,293.8 92.0,293.6 93.0,293.4 94.0,293.3 95.0,293.0 96.0,292.8 97.0,292.6 98.0,292.3 99.0,292.0 100.0,291.7 101.0,291.4 102.0,291.0 103.0,290.6 104.0,290.2 105.0,289.7 106.0,289.2 107.0,288.7 108.0,288.2 109.0,287.6 110.0,287.0 111.0,286.3 112.0,285.6 113.0,284.9 114.0,284.1 115.0,283.3 116.0,282.5 117.0,281.6 118.0,280.7 119.0,279.7 120.0,278.7 121.0,277.7 122.0,276.7 123.0,275.6 124.0,274.6 125.0,273.5 126.0,272.5 127.0,271.5 128.0,270.5 129.0,269.5 130.0,268.6 131.0,267.8 132.0,267.0 133.0,266.4 134.0,265.8 135.0,265.4 136.0,265.2 137.0,265.0 138.0,265.1 139.0,265.3 140.0,265.7 141.0,266.3 142.0,267.1 143.0,268.0 144.0,269.1 145.0,270.4 146.0,271.9 147.0,273.4 148.0,275.1 149.0,276.8 150.0,278.6 151.0,280.4 152.0,282.2 153.0,283.9 154.0,285.5 155.0,287.1 156.0,288.5 157.0,289.7 158.0,290.9 159.0,291.8 160.0,292.7 161.0,293.4 162.0,293.9 163.0,294.4 164.0,294.7 165.0,294.9 166.0,295.1 167.0,295.3 168.0,295.3 169.0,295.4 170.0,295.4 171.0,295.5 172.0,295.5 173.0,295.5 174.0,295.5 175.0,295.5 176.0,295.5 177.0,295.5 178.0,295.5 179.0,295.5 180.0,295.5 181.0,295.5 182.0,295.5 183.0,295.5 184.0,295.5 185.0,295.5 186.0,295.5 187.0,295.5 188.0,295.5 189.0,295.5 190.0,295.5 191.0,295.5 192.0,295.5 193.0,295.5 194.0,295.5 195.0,295.5 196.0,295.5 197.0,295.5 198.0,295.5 199.0,295.5 200.0,295.5 201.0,295.5 202.0,295.5 203.0,295.5 204.0,295.5 205.0,295.5 206.0,295.5 207.0,295.5 208.0,295.5 209.0,295.5 210.0,295.5 211.0,295.5 212.0,295.5 213.0,295.5 214.0,295.5 215.0,295.5 216.0,295.5 217.0,295.5 218.0,295.5 219.0,295.5 220.0,295.5 221.0,295.5 222.0,295.5 223.0,295.5 224.0,295.5 225.0,295.5 226.0,295.5 227.0,295.5 228.0,295.5 229.0,295.5 230.0,295.5 231.0,295.5 232.0,295.5 233.0,295.5 234.0,295.5 235.0,295.5 236.0,295.5 237.0,295.5 238.0,295.5 239.0,295.5 240.0,295.5 241.0,295.5 242.0,295.5 243.0,295.5 244.0,295.5 245.0,295.5 246.0,295.5 247.0,295.5 248.0,295.5 249.0,295.5 250.0,295.5 251.0,295.5 252.0,295.5 253.0,295.5 254.0,295.5 255.0,295.5 256.0,295.5 257.0,295.5 258.0,295.5 259.0,295.5 260.0,295.5 261.0,295.5 262.0,295.5 263.0,295.5 264.0,295.5 265.0,295.5 266.0,295.5 267.0,295.5 268.0,295.5 269.0,295.5 270.0,295.5 271.0,295.5 272.0,295.5 273.0,295.5 274.0,295.5 275.0,295.5 276.0,295.5 277.0,295.5 278.0,295.5 279.0,295.5 280.0,295.5 281.0,295.5 282.0,295.5 283.0,295.5 284.0,295.5 285.0,295.5 286.0,295.5 287.0,295.5 288.0,295.5 289.0,295.5 290.0,295.5 291.0,295.5 292.0,295.5 293.0,295.5 294.0,295.5 295.0,295.5 296.0,295.5 297.0,295.5 298.0,295.5 299.0,295.5 300.0,295.5 301.0,295.5 302.0,295.5 303.0,295.5 304.0,295.5 305.0,295.5 306.0,295.5 307.0,295.5 308.0,295.5 309.0,295.5 310.0,295.5 311.0,295.5 312.0,295.5 313.0,295.5 314.0,295.5 315.0,295.5 316.0,295.5 317.0,295.5 318.0,295.5" fill="none" stroke="#00ff00" stroke-width="2" stroke-dasharray="7 4" stroke-linejoin="round"/>
<path d="M48.0,295.5 49.0,295.5 50.0,295.5 51.0,295.5 52.0,295.5 53.0,295.5 54.0,295.5 55.0,295.5 56.0,295.5 57.0,295.5 58.0,295.5 59.0,295.5 60.0,295.5 61.0,295.5 62.0,295.5 63.0,295.5 64.0,295.5 65.0,295.5 66.0,295.5 67.0,295.5 68.0,295.5 69.0,295.5 70.0,295.5 71.0,295.5 72.0,295.5 73.0,295.5 74.0,295.5 75.0,295.5 76.0,295.5 77.0,295.5 78.0,295.5 79.0,295.5 80.0,295.5 81.0,295.5 82.0,295.5 83.0,295.5 84.0,295.5 85.0,295.5 86.0,295.5 87.0,295.5 88.0,295.5 89.0,295.5 90.0,295.5 91.0,295.5 92.0,295.5 93.0,295.5 94.0,295.5 95.0,295.5 96.0,295.5 97.0,295.5 98.0,295.5 99.0,295.5 100.0,295.5 101.0,295.5 102.0,295.5 103.0,295.5 104.0,295.5 105.0,295.5 106.0,295.5 107.0,295.5 108.0,295.5 109.0,295.5 110.0,295.5 111.0,295.5 112.0,295.5 113.0,295.5 114.0,295.5 115.0,295.5 116.0,295.5 117.0,295.5 118.0,295.5 119.0,295.5 120.0,295.5 121.0,295.5 122.0,295.5 123.0,295.5 124.0,295.4 125.0,295.4 126.0,295.4 127.0,295.4 128.0,295.4 129.0,295.4 130.0,295.4 131.0,295.4 132.0,295.4 133.0,295.4 134.0,295.4 135.0,295.4 136.0,295.4 137.0,295.3 138.0,295.3 139.0,295.3 140.0,295.3 141.0,295.3 142.0,295.3 143.0,295.3 144.0,295.2 145.0,295.2 146.0,295.2 147.0,295.2 148.0,295.1 149.0,295.1 150.0,295.1 151.0,295.0 152.0,295.0 153.0,295.0 154.0,294.9 155.0,294.9 156.0,294.9 157.0,294.8 158.0,294.8 159.0,294.7 160.0,294.7 161.0,294.6 162.0,294.5 163.0,294.5 164.0,294.4 165.0,294.3 166.0,294.3 167.0,294.2 168.0,294.1 169.0,294.0 170.0,293.9 171.0,293.8 172.0,293.7 173.0,293.6 174.0,293.5 175.0,293.4 176.0,293.3 177.0,293.2 178.0,293.1 179.0,293.0 180.0,292.9 181.0,292.8 182.0,292.7 183.0,292.5 184.0,292.4 185.0,292.3 186.0,292.2 187.0,292.1 188.0,292.0 189.0,291.9 190.0,291.9 191.0,291.8 192.0,291.7 193.0,291.7 194.0,291.6 195.0,291.6 196.0,291.6 197.0,291.6 198.0,291.6 199.0,291.7 200.0,291.7 201.0,291.8 202.0,291.9 203.0,292.0 204.0,292.1 205.0,292.2 206.0,292.3 207.0,292.5 208.0,292.7 209.0,292.9 210.0,293.0 211.0,293.2 212.0,293.4 213.0,293.6 214.0,293.8 215.0,294.0 216.0,294.2 217.0,294.3 218.0,294.5 219.0,294.6 220.0,294.8 221.0,294.9 222.0,295.0 223.0,295.1 224.0,295.2 225.0,295.2 226.0,295.3 227.0,295.3 228.0,295.4 229.0,295.4 230.0,295.4 231.0,295.5 232.0,295.5 233.0,295.5 234.0,295.5 235.0,295.5 236.0,295.5 237.0,295.5 238.0,295.5 239.0,295.5 240.0,295.5 241.0,295.5 242.0,295.5 243.0,295.5 244.0,295.5 245.0,295.5 246.0,295.5 247.0,295.5 248.0,295.5 249.0,295.5 250.0,295.5 251.0,295.5 252.0,295.5 253.0,295.5 254.0,295.5 255.0,295.5 256.0,295.5 257.0,295.5 258.0,295.5 259.0,295.5 260.0,295.5 261.0,295.5 262.0,295.5 263.0,295.5 264.0,295.5 265.0,295.5 266.0,295.5 267.0,295.5 268.0,295.5 269.0,295.5 270.0,295.5 271.0,295.5 272.0,295.5 273.0,295.5 274.0,295.5 275.0,295.5 276.0,295.5 277.0,295.5 278.0,295.5 279.0,295.5 280.0,295.5 281.0,295.5 282.0,295.5 283.0,295.5 284.0,295.5 285.0,295.5 286.0,295.5 287.0,295.5 288.0,295.5 289.0,295.5 290.0,295.5 291.0,295.5 292.0,295.5 293.0,295.5 294.0,295.5 295.0,295.5 296.0,295.5 297.0,295.5 298.0,295.5 299.0,295.5 300.0,295.5 301.0,295.5 302.0,295.5 303.0,295.5 304.0,295.5 305.0,295.5 306.0,295.5 307.0,295.5 308.0,295.5 309.0,295.5 310.0,295.5 311.0,295.5 312.0,295.5 313.0,295.5 314.0,295.5 315.0,295.5 316.0,295.5 317.0,295.5 318.0,295.5" fill="none" stroke="#0000ff" stroke-width="2" stroke-dasharray="7 4" stroke-linejoin="round"/>
<path d="M48.0,295.5 49.0,295.5 50.0,295.5 51.0,295.5 52.0,295.5 53.0,295.5 54.0,295.5 55.0,295.5 56.0,295.5 57.0,295.5 58.0,295.5 59.0,295.5 60.0,295.5 61.0,295.5 62.0,295.5 63.0,295.5 64.0,295.5 65.0,295.5 66.0,295.5 67.0,295.5 68.0,295.5 69.0,295.5 70.0,295.5 71.0,295.5 72.0,295.5 73.0,295.5 74.0,295.5 75.0,295.5 76.0,295.5 77.0,295.5 78.0,295.5 79.0,295.5 80.0,295.5 81.0,295.5 82.0,295.5 83.0,295.5 84.0,295.5 85.0,295.5 86.0,295.5 87.0,295.5 88.0,295.5 89.0,295.5 90.0,295.5 91.0,295.5 92.0,295.5 93.0,295.5 94.0,295.5 95.0,295.5 96.0,295.5 97.0,295.5 98.0,295.5 99.0,295.5 100.0,295.5 101.0,295.5 102.0,295.5 103.0,295.5 104.0,295.5 105.0,295.5 106.0,295.5 107.0,295.5 108.0,295.5 109.0,295.5 110.0,295.5 111.0,295.5 112.0,295.5 113.0,295.5 114.0,295.5 115.0,295.5 116.0,295.5 117.0,295.5 118.0,295.5 119.0,295.5 120.0,295.5 121.0,295.5 122.0,295.5 123.0,295.5 124.0,295.5 125.0,295.5 126.0,295.5 127.0,295.5 128.0,295.5 129.0,295.5 130.0,295.5 131.0,295.5 132.0,295.5 133.0,295.5 134.0,295.5 135.0,295.5 136.0,295.5 137.0,295.5 138.0,295.5 139.0,295.5 140.0,295.5 141.0,295.5 142.0,295.5 143.0,295.5 144.0,295.5 145.0,295.5 146.0,295.5 147.0,295.5 148.0,295.5 149.0,295.5 150.0,295.5 151.0,295.5 152.0,295.5 153.0,295.5 154.0,295.5 155.0,295.5 156.0,295.5 157.0,295.5 158.0,295.5 159.0,295.5 160.0,295.5 161.0,295.5 162.0,295.5 163.0,295.5 164.0,295.5 165.0,295.5 166.0,295.5 167.0,295.5 168.0,295.5 169.0,295.5 170.0,295.5 171.0,295.5 172.0,295.5 173.0,295.5 174.0,295.5 175.0,295.5 176.0,295.5 177.0,295.5 178.0,295.5 179.0,295.5 180.0,295.5 181.0,295.5 182.0,295.5 183.0,295.5 184.0,295.5 185.0,295.5 186.0,295.4 187.0,295.4 188.0,295.4 189.0,295.4 190.0,295.4 191.0,295.4 192.0,295.4 193.0,295.4 194.0,295.4 195.0,295.4 196.0,295.4 197.0,295.4 198.0,295.3 199.0,295.3 200.0,295.3 201.0,295.3 202.0,295.3 203.0,295.3 204.0,295.2 205.0,295.2 206.0,295.2 207.0,295.2 208.0,295.1 209.0,295.1 210.0,295.1 211.0,295.0 212.0,295.0 213.0,295.0 214.0,294.9 215.0,294.9 216.0,294.8 217.0,294.8 218.0,294.8 219.0,294.7 220.0,294.7 221.0,294.6 222.0,294.6 223.0,294.5 224.0,294.4 225.0,294.4 226.0,294.3 227.0,294.3 228.0,294.2 229.0,294.2 230.0,294.2 231.0,294.1 232.0,294.1 233.0,294.1 234.0,294.1 235.0,294.0 236.0,294.0 237.0,294.1 238.0,294.1 239.0,294.1 240.0,294.1 241.0,294.2 242.0,294.2 243.0,294.3 244.0,294.4 245.0,294.5 246.0,294.6 247.0,294.6 248.0,294.7 249.0,294.8 250.0,294.9 251.0,295.0 252.0,295.1 253.0,295.2 254.0,295.2 255.0,295.3 256.0,295.3 257.0,295.4 258.0,295.4 259.0,295.4 260.0,295.5 261.0,295.5 262.0,295.5 263.0,295.5 264.0,295.5 265.0,295.5 266.0,295.5 267.0,295.5 268.0,295.5 269.0,295.5 270.0,295.5 271.0,295.5 272.0,295.5 273.0,295.5 274.0,295.5 275.0,295.5 276.0,295.5 277.0,295.5 278.0,295.5 279.0,295.5 280.0,295.5 281.0,295.5 282.0,295.5 283.0,295.5 284.0,295.5 285.0,295.5 286.0,295.5 287.0,295.5 288.0,295.5 289.0,295.5 290.0,295.5 291.0,295.5 292.0,295.5 293.0,295.5 294.0,295.5 295.0,295.5 296.0,295.5 297.0,295.5 298.0,295.5 299.0,295.5 300.0,295.5 301.0,295.5 302.0,295.5 303.0,295.5 304.0,295.5 305.0,295.5 306.0,295.5 307.0,295.5 308.0,295.5 309.0,295.5 310.0,295.5 311.0,295.5 312.0,295.5 313.0,295.5 314.0,295.5 315.0,295.5 316.0,295.5 317.0,295.5 318.0,295.5" fill="none" stroke="#00ffff" stroke-width="2" stroke-dasharray="7 4" stroke-linejoin="round"/>
<path d="M48.0,295.5 49.0,295.5 50.0,295.5 51.0,295.5 52.0,295.5 53.0,295.5 54.0,295.5 55.0,295.5 56.0,295.5 57.0,295.5 58.0,295.5 59.0,295.5 60.0,295.5 61.0,295.5 62.0,295.5 63.0,295.5 64.0,295.5 65.0,295.5 66.0,295.5 67.0,295.5 68.0,295.5 69.0,295.5 70.0,295.5 71.0,295.5 72.0,295.5 73.0,295.5 74.0,295.5 75.0,295.5 76.0,295.5 77.0,295.5 78.0,295.5 79.0,295.5 80.0,295.5 81.0,295.5 82.0,295.5 83.0,295.5 84.0,295.5 85.0,295.5 86.0,295.5 87.0,295.5 88.0,295.5 89.0,295.5 90.0,295.5 91.0,295.5 92.0,295.5 93.0,295.5 94.0,295.5 95.0,295.5 96.0,295.5 97.0,295.5 98.0,295.5 99.0,295.5 100.0,295.5 101.0,295.5 102.0,295.5 103.0,295.5 104.0,295.5 105.0,295.5 106.0,295.5 107.0,295.5 108.0,295.5 109.0,295.5 110.0,295.5 111.0,295.5 112.0,295.5 113.0,295.5 114.0,295.5 115.0,295.5 116.0,295.5 117.0,295.5 118.0,295.5 119.0,295.5 120.0,295.5 121.0,295.5 122.0,295.5 123.0,295.5 124.0,295.5 125.0,295.5 126.0,295.5 127.0,295.5 128.0,295.5 129.0,295.5 130.0,295.5 131.0,295.5 132.0,295.5 133.0,295.5 134.0,295.5 135.0,295.5 136.0,295.5 137.0,295.5 138.0,295.5 139.0,295.5 140.0,295.5 141.0,295.5 142.0,295.5 143.0,295.5 144.0,295.5 145.0,295.5 146.0,295.5 147.0,295.5 148.0,295.5 149.0,295.5 150.0,295.5 151.0,295.5 152.0,295.5 153.0,295.5 154.0,295.5 155.0,295.5 156.0,295.5 157.0,295.5 158.0,295.5 159.0,295.5 160.0,295.5 161.0,295.5 162.0,295.5 163.0,295.5 164.0,295.5 165.0,295.5 166.0,295.5 167.0,295.5 168.0,295.5 169.0,295.5 170.0,295.5 171.0,295.5 172.0,295.5 173.0,295.5 174.0,295.5 175.0,295.5 176.0,295.5 177.0,295.5 178.0,295.5 179.0,295.5 180.0,295.5 181.0,295.5 182.0,295.5 183.0,295.5 184.0,295.5 185.0,295.5 186.0,295.5 187.0,295.5 188.0,295.5 189.0,295.5 190.0,295.5 191.0,295.5 192.0,295.5 193.0,295.5 194.0,295.5 195.0,295.5 196.0,295.5 197.0,295.5 198.0,295.5 199.0,295.5 200.0,295.5 201.0,295.5 202.0,295.5 203.0,295.5 204.0,295.5 205.0,295.5 206.0,295.5 207.0,295.5 208.0,295.5 209.0,295.5 210.0,295.5 211.0,295.5 212.0,295.5 213.0,295.5 214.0,295.5 215.0,295.5 216.0,295.5 217.0,295.5 218.0,295.5 219.0,295.5 220.0,295.5 221.0,295.5 222.0,295.5 223.0,295.5 224.0,295.5 225.0,295.5 226.0,295.5 227.0,295.4 228.0,295.4 229.0,295.4 230.0,295.4 231.0,295.4 232.0,295.4 233.0,295.4 234.0,295.4 235.0,295.4 236.0,295.4 237.0,295.4 238.0,295.4 239.0,295.4 240.0,295.4 241.0,295.4 242.0,295.3 243.0,295.3 244.0,295.3 245.0,295.3 246.0,295.3 247.0,295.3 248.0,295.3 249.0,295.2 250.0,295.2 251.0,295.2 252.0,295.2 253.0,295.2 254.0,295.1 255.0,295.1 256.0,295.1 257.0,295.1 258.0,295.0 259.0,295.0 260.0,295.0 261.0,295.0 262.0,294.9 263.0,294.9 264.0,294.9 265.0,294.8 266.0,294.8 267.0,294.8 268.0,294.7 269.0,294.7 270.0,294.7 271.0,294.6 272.0,294.6 273.0,294.6 274.0,294.5 275.0,294.5 276.0,294.4 277.0,294.4 278.0,294.4 279.0,294.4 280.0,294.3 281.0,294.3 282.0,294.3 283.0,294.3 284.0,294.3 285.0,294.3 286.0,294.3 287.0,294.3 288.0,294.3 289.0,294.3 290.0,294.3 291.0,294.4 292.0,294.4 293.0,294.4 294.0,294.5 295.0,294.5 296.0,294.6 297.0,294.6 298.0,294.7 299.0,294.7 300.0,294.8 301.0,294.9 302.0,294.9 303.0,295.0 304.0,295.0 305.0,295.1 306.0,295.2 307.0,295.2 308.0,295.3 309.0,295.3 310.0,295.3 311.0,295.4 312.0,295.4 313.0,295.4 314.0,295.4 315.0,295.5 316.0,295.5 317.0,295.5 318.0,295.5" fill="none" stroke="#ff00ff" stroke-width="2" stroke-dasharray="7 4" stroke-linejoin="round"/>
<path d="M48.0,391.5 48.5,391.4 49.0,391.3 49.5,391.3 50.0,391.2 50.5,391.1 51.0,391.1 51.5,391.0 52.0,391.0 52.5,390.9 53.0,390.9 53.5,390.8 54.0,390.8 54.5,390.8 55.0,390.7 55.5,390.7 56.0,390.7 56.5,390.7 57.0,390.6 57.5,390.6 58.0,390.6 58.5,390.6 59.0,390.6 59.5,390.5 60.0,390.5 60.5,390.5 61.0,390.5 61.5,390.4 62.0,390.4 62.5,390.4 63.0,390.4 63.5,390.3 64.0,390.3 64.5,390.2 65.0,390.2 65.5,390.1 66.0,390.1 66.5,390.0 67.0,389.9 67.5,389.9 68.0,389.8 68.5,389.7 69.0,389.6 69.5,389.5 70.0,389.4 70.5,389.2 71.0,389.1 71.5,389.0 72.0,388.8 72.5,388.7 73.0,388.5 73.5,388.3 74.0,388.1 74.5,387.9 75.0,387.7 75.5,387.5 76.0,387.2 76.5,387.0 77.0,386.7 77.5,386.4 78.0,386.1 78.5,385.8 79.0,385.5 79.5,385.2 80.0,384.8 80.5,384.5 81.0,384.1 81.5,383.7 82.0,383.3 82.5,382.8 83.0,382.4 83.5,381.9 84.0,381.4 84.5,380.9 85.0,380.4 85.5,379.8 86.0,379.2 86.5,378.6 87.0,378.0 87.5,377.4 88.0,376.7 88.5,376.0 89.0,375.3 89.5,374.6 90.0,373.8 90.5,373.0 91.0,372.2 91.5,371.4 92.0,370.5 92.5,369.6 93.0,368.7 93.5,367.8 94.0,366.8 94.5,365.8 95.0,364.8 95.5,363.7 96.0,362.6 96.5,361.5 97.0,360.3 97.5,359.1 98.0,357.9 98.5,356.7 99.0,355.4 99.5,354.1 100.0,352.7 100.5,351.3 101.0,349.9 101.5,348.5 102.0,347.0 102.5,345.5 103.0,344.0 103.5,342.5 104.0,341.0 104.5,339.5 105.0,338.0 105.5,336.4 106.0,334.9 106.5,333.4 107.0,331.9 107.5,330.4 108.0,329.0 108.5,327.5 109.0,326.1 109.5,324.7 110.0,323.3 110.5,322.0 111.0,320.7 111.5,319.5 112.0,318.3 112.5,317.1 113.0,316.0 113.5,314.9 114.0,313.9 114.5,313.0 115.0,312.0 115.5,311.2 116.0,310.3 116.5,309.6 117.0,308.8 117.5,308.2 118.0,307.5 118.5,307.0 119.0,306.4 119.5,306.0 120.0,305.6 120.5,305.3 121.0,305.1 121.5,305.0 122.0,305.0 122.5,305.2 123.0,305.5 123.5,305.9 124.0,306.5 124.5,307.3 125.0,308.3 125.5,309.4 126.0,310.7 126.5,312.2 127.0,313.8 127.5,315.7 128.0,317.6 128.5,319.7 129.0,321.9 129.5,324.3 130.0,326.7 130.5,329.2 131.0,331.8 131.5,334.4 132.0,337.0 132.5,339.5 133.0,342.1 133.5,344.6 134.0,347.0 134.5,349.3 135.0,351.5 135.5,353.6 136.0,355.6 136.5,357.4 137.0,359.1 137.5,360.8 138.0,362.3 138.5,363.8 139.0,365.1 139.5,366.4 140.0,367.7 140.5,368.8 141.0,369.9 141.5,371.0 142.0,371.9 142.5,372.9 143.0,373.7 143.5,374.5 144.0,375.3 144.5,376.0 145.0,376.7 145.5,377.3 146.0,377.9 146.5,378.4 147.0,378.9 147.5,379.4 148.0,379.8 148.5,380.2 149.0,380.6 149.5,381.0 150.0,381.3 150.5,381.6 151.0,381.9 151.5,382.2 152.0,382.5 152.5,382.8 153.0,383.0 153.5,383.3 154.0,383.5 154.5,383.7 155.0,384.0 155.5,384.2 156.0,384.4 156.5,384.6 157.0,384.7 157.5,384.9 158.0,385.1 158.5,385.2 159.0,385.4 159.5,385.5 160.0,385.7 160.5,385.8 161.0,385.9 161.5,386.0 162.0,386.2 162.5,386.3 163.0,386.3 163.5,386.4 164.0,386.5 164.5,386.6 165.0,386.7 165.5,386.7 166.0,386.8 166.5,386.8 167.0,386.9 167.5,386.9 168.0,387.0 168.5,387.0 169.0,387.0 169.5,387.0 170.0,387.1 170.5,387.1 171.0,387.1 171.5,387.1 172.0,387.1 172.5,387.1 173.0,387.1 173.5,387.1 174.0,387.1 174.5,387.1 175.0,387.1 175.5,387.0 176.0,387.0 176.5,387.0 177.0,387.0 177.5,386.9 178.0,386.9 178.5,386.9 179.0,386.9 179.5,386.8 180.0,386.8 180.5,386.8 181.0,386.7 181.5,386.7 182.0,386.6 182.5,386.6 183.0,386.6 183.5,386.5 184.0,386.5 184.5,386.5 185.0,386.4 185.5,386.4 186.0,386.3 186.5,386.3 187.0,386.3 187.5,386.2 188.0,386.2 188.5,386.1 189.0,386.1 189.5,386.1 190.0,386.0 190.5,386.0 191.0,385.9 191.5,385.9 192.0,385.9 192.5,385.8 193.0,385.8 193.5,385.8 194.0,385.7 194.5,385.7 195.0,385.7 195.5,385.7 196.0,385.6 196.5,385.6 197.0,385.6 197.5,385.6 198.0,385.5 198.5,385.5 199.0,385.5 199.5,385.5 200.0,385.5 200.5,385.5 201.0,385.5 201.5,385.5 202.0,385.5 202.5,385.5 203.0,385.5 203.5,385.5 204.0,385.5 204.5,385.5 205.0,385.5 205.5,385.5 206.0,385.6 206.5,385.6 207.0,385.6 207.5,385.6 208.0,385.7 208.5,385.7 209.0,385.7 209.5,385.8 210.0,385.8 210.5,385.9 211.0,385.9 211.5,386.0 212.0,386.1 212.5,386.1 213.0,386.2 213.5,386.3 214.0,386.4 214.5,386.5 215.0,386.5 215.5,386.6 216.0,386.7 216.5,386.8 217.0,386.9 217.5,387.0 218.0,387.1 218.5,387.2 219.0,387.3 219.5,387.5 220.0,387.6 220.5,387.7 221.0,387.8 221.5,387.9 222.0,388.0 222.5,388.1 223.0,388.2 223.5,388.3 224.0,388.4 224.5,388.5 225.0,388.6 225.5,388.7 226.0,388.8 226.5,388.9 227.0,389.0 227.5,389.0 228.0,389.1 228.5,389.2 229.0,389.3 229.5,389.3 230.0,389.4 230.5,389.5 231.0,389.5 231.5,389.6 232.0,389.6 232.5,389.7 233.0,389.8 233.5,389.8 234.0,389.9 234.5,389.9 235.0,389.9 235.5,390.0 236.0,390.0 236.5,390.1 237.0,390.1 237.5,390.1 238.0,390.2 238.5,390.2 239.0,390.2 239.5,390.3 240.0,390.3 240.5,390.3 241.0,390.3 241.5,390.3 242.0,390.4 242.5,390.4 243.0,390.4 243.5,390.4 244.0,390.4 244.5,390.4 245.0,390.5 245.5,390.5 246.0,390.5 246.5,390.5 247.0,390.5 247.5,390.5 248.0,390.5 248.5,390.5 249.0,390.5 249.5,390.5 250.0,390.5 250.5,390.5 251.0,390.5 251.5,390.5 252.0,390.5 252.5,390.5 253.0,390.5 253.5,390.5 254.0,390.5 254.5,390.5 255.0,390.5 255.5,390.5 256.0,390.5 256.5,390.5 257.0,390.5 257.5,390.5 258.0,390.5 258.5,390.5 259.0,390.5 259.5,390.5 260.0,390.5 260.5,390.5 261.0,390.5 261.5,390.5 262.0,390.5 262.5,390.5 263.0,390.5 263.5,390.5 264.0,390.5 264.5,390.5 265.0,390.5 265.5,390.5 266.0,390.5 266.5,390.5 267.0,390.5 267.5,390.5 268.0,390.5 268.5,390.5 269.0,390.5 269.5,390.5 270.0,390.5 270.5,390.5 271.0,390.5 271.5,390.6 272.0,390.6 272.5,390.6 273.0,390.6 273.5,390.6 274.0,390.6 274.5,390.6 275.0,390.6 275.5,390.6 276.0,390.6 276.5,390.6 277.0,390.6 277.5,390.6 278.0,390.6 278.5,390.7 279.0,390.7 279.5,390.7 280.0,390.7 280.5,390.7 281.0,390.7 281.5,390.7 282.0,390.7 282.5,390.7 283.0,390.7 283.5,390.7 284.0,390.8 284.5,390.8 285.0,390.8 285.5,390.8 286.0,390.8 286.5,390.8 287.0,390.8 287.5,390.8 288.0,390.8 288.5,390.9 289.0,390.9 289.5,390.9 290.0,390.9 290.5,390.9 291.0,390.9 291.5,390.9 292.0,391.0 292.5,391.0 293.0,391.0 293.5,391.0 294.0,391.0 294.5,391.0 295.0,391.0 295.5,391.0 296.0,391.1 296.5,391.1 297.0,391.1 297.5,391.1 298.0,391.1 298.5,391.1 299.0,391.2 299.5,391.2 300.0,391.2 300.5,391.2 301.0,391.2 301.5,391.2 302.0,391.2 302.5,391.3 303.0,391.3 303.5,391.3 304.0,391.3 304.5,391.3 305.0,391.3 305.5,391.4 306.0,391.4 306.5,391.4 307.0,391.4 307.5,391.4 308.0,391.4 308.5,391.5 309.0,391.5 309.5,391.5 310.0,391.5 310.5,391.5 311.0,391.5 311.5,391.6 312.0,391.6 312.5,391.6 313.0,391.6 313.5,391.6 314.0,391.6 314.5,391.7 315.0,391.7 315.5,391.7 316.0,391.7 316.5,391.7 317.0,391.7 317.5,391.8 318.0,391.8 318.5,391.8" fill="none" stroke="#000" stroke-width="1.6" stroke-linejoin="round"/>
<path d="M48.0,391.1 49.0,391.1 50.0,391.0 51.0,391.0 52.0,391.0 53.0,390.9 54.0,390.9 55.0,390.8 56.0,390.8 57.0,390.7 58.0,390.7 59.0,390.6 60.0,390.5 61.0,390.4 62.0,390.3 63.0,390.2 64.0,390.0 65.0,389.9 66.0,389.7 67.0,389.6 68.0,389.4 69.0,389.2 70.0,388.9 71.0,388.7 72.0,388.4 73.0,388.1 74.0,387.7 75.0,387.4 76.0,386.9 77.0,386.5 78.0,386.0 79.0,385.5 80.0,384.9 81.0,384.2 82.0,383.5 83.0,382.8 84.0,381.9 85.0,381.0 86.0,380.1 87.0,379.0 88.0,377.9 89.0,376.6 90.0,375.3 91.0,373.9 92.0,372.4 93.0,370.7 94.0,369.0 95.0,367.1 96.0,365.2 97.0,363.1 98.0,360.9 99.0,358.5 100.0,356.1 101.0,353.5 102.0,350.8 103.0,348.0 104.0,345.2 105.0,342.2 106.0,339.2 107.0,336.2 108.0,333.1 109.0,330.1 110.0,327.1 111.0,324.1 112.0,321.3 113.0,318.6 114.0,316.2 115.0,313.9 116.0,312.0 117.0,310.4 118.0,309.2 119.0,308.5 120.0,308.2 121.0,308.5 122.0,309.3 123.0,310.7 124.0,312.7 125.0,315.2 126.0,318.3 127.0,321.9 128.0,326.0 129.0,330.5 130.0,335.4 131.0,340.4 132.0,345.6 133.0,350.8 134.0,356.0 135.0,360.9 136.0,365.6 137.0,370.0 138.0,373.9 139.0,377.4 140.0,380.4 141.0,383.0 142.0,385.1 143.0,386.8 144.0,388.1 145.0,389.1 146.0,389.8 147.0,390.3 148.0,390.7 149.0,390.9 150.0,391.1 151.0,391.2 152.0,391.2 153.0,391.3 154.0,391.3 155.0,391.3 156.0,391.3 157.0,391.3 158.0,391.3 159.0,391.3 160.0,391.3 161.0,391.3 162.0,391.3 163.0,391.3 164.0,391.3 165.0,391.3 166.0,391.3 167.0,391.3 168.0,391.3 169.0,391.3 170.0,391.3 171.0,391.3 172.0,391.3 173.0,391.3 174.0,391.3 175.0,391.3 176.0,391.3 177.0,391.3 178.0,391.3 179.0,391.3 180.0,391.3 181.0,391.3 182.0,391.3 183.0,391.3 184.0,391.3 185.0,391.3 186.0,391.3 187.0,391.3 188.0,391.3 189.0,391.3 190.0,391.3 191.0,391.3 192.0,391.3 193.0,391.3 194.0,391.3 195.0,391.3 196.0,391.3 197.0,391.3 198.0,391.3 199.0,391.3 200.0,391.3 201.0,391.3 202.0,391.3 203.0,391.3 204.0,391.3 205.0,391.3 206.0,391.3 207.0,391.3 208.0,391.3 209.0,391.3 210.0,391.3 211.0,391.3 212.0,391.3 213.0,391.3 214.0,391.3 215.0,391.3 216.0,391.3 217.0,391.3 218.0,391.3 219.0,391.3 220.0,391.3 221.0,391.3 222.0,391.3 223.0,391.3 224.0,391.3 225.0,391.3 226.0,391.3 227.0,391.3 228.0,391.3 229.0,391.3 230.0,391.3 231.0,391.3 232.0,391.3 233.0,391.3 234.0,391.3 235.0,391.3 236.0,391.3 237.0,391.3 238.0,391.3 239.0,391.3 240.0,391.3 241.0,391.3 242.0,391.3 243.0,391.3 244.0,391.3 245.0,391.3 246.0,391.3 247.0,391.3 248.0,391.3 249.0,391.3 250.0,391.3 251.0,391.3 252.0,391.3 253.0,391.3 254.0,391.3 255.0,391.3 256.0,391.3 257.0,391.3 258.0,391.3 259.0,391.3 260.0,391.3 261.0,391.3 262.0,391.3 263.0,391.3 264.0,391.3 265.0,391.3 266.0,391.3 267.0,391.3 268.0,391.3 269.0,391.3 270.0,391.3 271.0,391.3 272.0,391.3 273.0,391.3 274.0,391.3 275.0,391.3 276.0,391.3 277.0,391.3 278.0,391.3 279.0,391.3 280.0,391.3 281.0,391.3 282.0,391.3 283.0,391.3 284.0,391.3 285.0,391.3 286.0,391.3 287.0,391.3 288.0,391.3 289.0,391.3 290.0,391.3 291.0,391.3 292.0,391.3 293.0,391.3 294.0,391.3 295.0,391.3 296.0,391.3 297.0,391.3 298.0,391.3 299.0,391.3 300.0,391.3 301.0,391.3 302.0,391.3 303.0,391.3 304.0,391.3 305.0,391.3 306.0,391.3 307.0,391.3 308.0,391.3 309.0,391.3 310.0,391.3 311.0,391.3 312.0,391.3 313.0,391.3 314.0,391.3 315.0,391.3 316.0,391.3 317.0,391.3 318.0,391.3" fill="none" stroke="#ff0000" stroke-width="2" stroke-dasharray="7 4" stroke-linejoin="round"/>
<path d="M48.0,391.3 49.0,391.3 50.0,391.3 51.0,391.3 52.0,391.3 53.0,391.3 54.0,391.3 55.0,391.3 56.0,391.3 57.0,391.3 58.0,391.3 59.0,391.3 60.0,391.3 61.0,391.3 62.0,391.3 63.0,391.3 64.0,391.3 65.0,391.3 66.0,391.3 67.0,391.3 68.0,391.3 69.0,391.3 70.0,391.3 71.0,391.3 72.0,391.3 73.0,391.3 74.0,391.3 75.0,391.3 76.0,391.2 77.0,391.2 78.0,391.2 79.0,391.2 80.0,391.2 81.0,391.2 82.0,391.2 83.0,391.2 84.0,391.2 85.0,391.2 86.0,391.1 87.0,391.1 88.0,391.1 89.0,391.1 90.0,391.0 91.0,391.0 92.0,391.0 93.0,391.0 94.0,390.9 95.0,390.9 96.0,390.8 97.0,390.8 98.0,390.7 99.0,390.7 100.0,390.6 101.0,390.5 102.0,390.4 103.0,390.4 104.0,390.3 105.0,390.2 106.0,390.0 107.0,389.9 108.0,389.8 109.0,389.7 110.0,389.5 111.0,389.3 112.0,389.2 113.0,389.0 114.0,388.8 115.0,388.6 116.0,388.3 117.0,388.1 118.0,387.8 119.0,387.6 120.0,387.3 121.0,387.0 122.0,386.7 123.0,386.4 124.0,386.1 125.0,385.8 126.0,385.5 127.0,385.2 128.0,384.9 129.0,384.6 130.0,384.3 131.0,384.0 132.0,383.8 133.0,383.6 134.0,383.5 135.0,383.3 136.0,383.3 137.0,383.3 138.0,383.3 139.0,383.4 140.0,383.6 141.0,383.9 142.0,384.2 143.0,384.5 144.0,384.9 145.0,385.4 146.0,385.9 147.0,386.4 148.0,387.0 149.0,387.5 150.0,388.0 151.0,388.5 152.0,389.0 153.0,389.4 154.0,389.8 155.0,390.2 156.0,390.4 157.0,390.7 158.0,390.8 159.0,391.0 160.0,391.1 161.0,391.2 162.0,391.2 163.0,391.3 164.0,391.3 165.0,391.3 166.0,391.3 167.0,391.3 168.0,391.3 169.0,391.3 170.0,391.3 171.0,391.3 172.0,391.3 173.0,391.3 174.0,391.3 175.0,391.3 176.0,391.3 177.0,391.3 178.0,391.3 179.0,391.3 180.0,391.3 181.0,391.3 182.0,391.3 183.0,391.3 184.0,391.3 185.0,391.3 186.0,391.3 187.0,391.3 188.0,391.3 189.0,391.3 190.0,391.3 191.0,391.3 192.0,391.3 193.0,391.3 194.0,391.3 195.0,391.3 196.0,391.3 197.0,391.3 198.0,391.3 199.0,391.3 200.0,391.3 201.0,391.3 202.0,391.3 203.0,391.3 204.0,391.3 205.0,391.3 206.0,391.3 207.0,391.3 208.0,391.3 209.0,391.3 210.0,391.3 211.0,391.3 212.0,391.3 213.0,391.3 214.0,391.3 215.0,391.3 216.0,391.3 217.0,391.3 218.0,391.3 219.0,391.3 220.0,391.3 221.0,391.3 222.0,391.3 223.0,391.3 224.0,391.3 225.0,391.3 226.0,391.3 227.0,391.3 228.0,391.3 229.0,391.3 230.0,391.3 231.0,391.3 232.0,391.3 233.0,391.3 234.0,391.3 235.0,391.3 236.0,391.3 237.0,391.3 238.0,391.3 239.0,391.3 240.0,391.3 241.0,391.3 242.0,391.3 243.0,391.3 244.0,391.3 245.0,391.3 246.0,391.3 247.0,391.3 248.0,391.3 249.0,391.3 250.0,391.3 251.0,391.3 252.0,391.3 253.0,391.3 254.0,391.3 255.0,391.3 256.0,391.3 257.0,391.3 258.0,391.3 259.0,391.3 260.0,391.3 261.0,391.3 262.0,391.3 263.0,391.3 264.0,391.3 265.0,391.3 266.0,391.3 267.0,391.3 268.0,391.3 269.0,391.3 270.0,391.3 271.0,391.3 272.0,391.3 273.0,391.3 274.0,391.3 275.0,391.3 276.0,391.3 277.0,391.3 278.0,391.3 279.0,391.3 280.0,391.3 281.0,391.3 282.0,391.3 283.0,391.3 284.0,391.3 285.0,391.3 286.0,391.3 287.0,391.3 288.0,391.3 289.0,391.3 290.0,391.3 291.0,391.3 292.0,391.3 293.0,391.3 294.0,391.3 295.0,391.3 296.0,391.3 297.0,391.3 298.0,391.3 299.0,391.3 300.0,391.3 301.0,391.3 302.0,391.3 303.0,391.3 304.0,391.3 305.0,391.3 306.0,391.3 307.0,391.3 308.0,391.3 309.0,391.3 310.0,391.3 311.0,391.3 312.0,391.3 313.0,391.3 314.0,391.3 315.0,391.3 316.0,391.3 317.0,391.3 318.0,391.3" fill="none" stroke="#00ff00" stroke-width="2" stroke-dasharray="7 4" stroke-linejoin="round"/>
<path d="M48.0,391.3 49.0,391.3 50.0,391.3 51.0,391.3 52.0,391.3 53.0,391.3 54.0,391.3 55.0,391.3 56.0,391.3 57.0,391.3 58.0,391.3 59.0,391.3 60.0,391.3 61.0,391.3 62.0,391.3 63.0,391.3 64.0,391.3 65.0,391.3 66.0,391.3 67.0,391.3 68.0,391.3 69.0,391.3 70.0,391.3 71.0,391.3 72.0,391.3 73.0,391.3 74.0,391.3 75.0,391.3 76.0,391.3 77.0,391.3 78.0,391.3 79.0,391.3 80.0,391.3 81.0,391.3 82.0,391.3 83.0,391.3 84.0,391.3 85.0,391.3 86.0,391.3 87.0,391.3 88.0,391.3 89.0,391.3 90.0,391.3 91.0,391.3 92.0,391.3 93.0,391.3 94.0,391.3 95.0,391.3 96.0,391.3 97.0,391.3 98.0,391.3 99.0,391.3 100.0,391.3 101.0,391.3 102.0,391.3 103.0,391.3 104.0,391.3 105.0,391.3 106.0,391.3 107.0,391.3 108.0,391.3 109.0,391.3 110.0,391.3 111.0,391.3 112.0,391.2 113.0,391.2 114.0,391.2 115.0,391.2 116.0,391.2 117.0,391.2 118.0,391.2 119.0,391.2 120.0,391.2 121.0,391.2 122.0,391.2 123.0,391.2 124.0,391.2 125.0,391.2 126.0,391.1 127.0,391.1 128.0,391.1 129.0,391.1 130.0,391.1 131.0,391.1 132.0,391.1 133.0,391.0 134.0,391.0 135.0,391.0 136.0,391.0 137.0,391.0 138.0,390.9 139.0,390.9 140.0,390.9 141.0,390.9 142.0,390.8 143.0,390.8 144.0,390.8 145.0,390.7 146.0,390.7 147.0,390.6 148.0,390.6 149.0,390.5 150.0,390.5 151.0,390.4 152.0,390.4 153.0,390.3 154.0,390.3 155.0,390.2 156.0,390.1 157.0,390.1 158.0,390.0 159.0,389.9 160.0,389.8 161.0,389.8 162.0,389.7 163.0,389.6 164.0,389.5 165.0,389.4 166.0,389.3 167.0,389.2 168.0,389.1 169.0,389.0 170.0,388.8 171.0,388.7 172.0,388.6 173.0,388.5 174.0,388.3 175.0,388.2 176.0,388.0 177.0,387.9 178.0,387.8 179.0,387.6 180.0,387.5 181.0,387.3 182.0,387.2 183.0,387.0 184.0,386.9 185.0,386.7 186.0,386.6 187.0,386.4 188.0,386.3 189.0,386.2 190.0,386.0 191.0,385.9 192.0,385.8 193.0,385.7 194.0,385.6 195.0,385.5 196.0,385.5 197.0,385.4 198.0,385.4 199.0,385.3 200.0,385.3 201.0,385.3 202.0,385.4 203.0,385.4 204.0,385.5 205.0,385.5 206.0,385.6 207.0,385.7 208.0,385.9 209.0,386.0 210.0,386.2 211.0,386.4 212.0,386.6 213.0,386.8 214.0,387.0 215.0,387.2 216.0,387.5 217.0,387.7 218.0,388.0 219.0,388.2 220.0,388.5 221.0,388.7 222.0,388.9 223.0,389.2 224.0,389.4 225.0,389.6 226.0,389.8 227.0,390.0 228.0,390.2 229.0,390.3 230.0,390.5 231.0,390.6 232.0,390.7 233.0,390.8 234.0,390.9 235.0,391.0 236.0,391.0 237.0,391.1 238.0,391.1 239.0,391.2 240.0,391.2 241.0,391.2 242.0,391.2 243.0,391.3 244.0,391.3 245.0,391.3 246.0,391.3 247.0,391.3 248.0,391.3 249.0,391.3 250.0,391.3 251.0,391.3 252.0,391.3 253.0,391.3 254.0,391.3 255.0,391.3 256.0,391.3 257.0,391.3 258.0,391.3 259.0,391.3 260.0,391.3 261.0,391.3 262.0,391.3 263.0,391.3 264.0,391.3 265.0,391.3 266.0,391.3 267.0,391.3 268.0,391.3 269.0,391.3 270.0,391.3 271.0,391.3 272.0,391.3 273.0,391.3 274.0,391.3 275.0,391.3 276.0,391.3 277.0,391.3 278.0,391.3 279.0,391.3 280.0,391.3 281.0,391.3 282.0,391.3 283.0,391.3 284.0,391.3 285.0,391.3 286.0,391.3 287.0,391.3 288.0,391.3 289.0,391.3 290.0,391.3 291.0,391.3 292.0,391.3 293.0,391.3 294.0,391.3 295.0,391.3 296.0,391.3 297.0,391.3 298.0,391.3 299.0,391.3 300.0,391.3 301.0,391.3 302.0,391.3 303.0,391.3 304.0,391.3 305.0,391.3 306.0,391.3 307.0,391.3 308.0,391.3 309.0,391.3 310.0,391.3 311.0,391.3 312.0,391.3 313.0,391.3 314.0,391.3 315.0,391.3 316.0,391.3 317.0,391.3 318.0,391.3" fill="none" stroke="#0000ff" stroke-width="2" stroke-dasharray="7 4" stroke-linejoin="round"/>
<path d="M48.0,391.3 49.0,391.3 50.0,391.3 51.0,391.3 52.0,391.3 53.0,391.3 54.0,391.3 55.0,391.3 56.0,391.3 57.0,391.3 58.0,391.3 59.0,391.3 60.0,391.3 61.0,391.3 62.0,391.3 63.0,391.3 64.0,391.3 65.0,391.3 66.0,391.3 67.0,391.3 68.0,391.3 69.0,391.3 70.0,391.3 71.0,391.3 72.0,391.3 73.0,391.3 74.0,391.3 75.0,391.3 76.0,391.3 77.0,391.3 78.0,391.3 79.0,391.3 80.0,391.3 81.0,391.3 82.0,391.3 83.0,391.3 84.0,391.3 85.0,391.3 86.0,391.3 87.0,391.3 88.0,391.3 89.0,391.3 90.0,391.3 91.0,391.3 92.0,391.3 93.0,391.3 94.0,391.3 95.0,391.3 96.0,391.3 97.0,391.3 98.0,391.3 99.0,391.3 100.0,391.3 101.0,391.3 102.0,391.3 103.0,391.3 104.0,391.3 105.0,391.3 106.0,391.3 107.0,391.3 108.0,391.3 109.0,391.3 110.0,391.3 111.0,391.3 112.0,391.3 113.0,391.3 114.0,391.3 115.0,391.3 116.0,391.3 117.0,391.3 118.0,391.3 119.0,391.3 120.0,391.3 121.0,391.3 122.0,391.3 123.0,391.3 124.0,391.3 125.0,391.3 126.0,391.3 127.0,391.3 128.0,391.3 129.0,391.3 130.0,391.3 131.0,391.3 132.0,391.3 133.0,391.3 134.0,391.3 135.0,391.3 136.0,391.3 137.0,391.3 138.0,391.3 139.0,391.3 140.0,391.3 141.0,391.3 142.0,391.3 143.0,391.3 144.0,391.3 145.0,391.3 146.0,391.3 147.0,391.3 148.0,391.3 149.0,391.3 150.0,391.3 151.0,391.3 152.0,391.3 153.0,391.3 154.0,391.3 155.0,391.3 156.0,391.3 157.0,391.3 158.0,391.3 159.0,391.3 160.0,391.3 161.0,391.3 162.0,391.3 163.0,391.3 164.0,391.3 165.0,391.3 166.0,391.3 167.0,391.3 168.0,391.3 169.0,391.3 170.0,391.3 171.0,391.3 172.0,391.3 173.0,391.3 174.0,391.3 175.0,391.3 176.0,391.3 177.0,391.3 178.0,391.3 179.0,391.3 180.0,391.3 181.0,391.3 182.0,391.2 183.0,391.2 184.0,391.2 185.0,391.2 186.0,391.2 187.0,391.2 188.0,391.2 189.0,391.2 190.0,391.2 191.0,391.2 192.0,391.2 193.0,391.2 194.0,391.2 195.0,391.2 196.0,391.1 197.0,391.1 198.0,391.1 199.0,391.1 200.0,391.1 201.0,391.1 202.0,391.0 203.0,391.0 204.0,391.0 205.0,391.0 206.0,391.0 207.0,390.9 208.0,390.9 209.0,390.9 210.0,390.8 211.0,390.8 212.0,390.8 213.0,390.7 214.0,390.7 215.0,390.7 216.0,390.6 217.0,390.6 218.0,390.5 219.0,390.5 220.0,390.4 221.0,390.4 222.0,390.3 223.0,390.2 224.0,390.2 225.0,390.1 226.0,390.1 227.0,390.0 228.0,389.9 229.0,389.9 230.0,389.8 231.0,389.7 232.0,389.6 233.0,389.6 234.0,389.5 235.0,389.4 236.0,389.4 237.0,389.3 238.0,389.2 239.0,389.2 240.0,389.1 241.0,389.1 242.0,389.1 243.0,389.0 244.0,389.0 245.0,389.0 246.0,389.0 247.0,389.0 248.0,389.0 249.0,389.0 250.0,389.1 251.0,389.1 252.0,389.2 253.0,389.3 254.0,389.4 255.0,389.4 256.0,389.5 257.0,389.7 258.0,389.8 259.0,389.9 260.0,390.0 261.0,390.1 262.0,390.3 263.0,390.4 264.0,390.5 265.0,390.6 266.0,390.7 267.0,390.8 268.0,390.9 269.0,391.0 270.0,391.0 271.0,391.1 272.0,391.1 273.0,391.2 274.0,391.2 275.0,391.2 276.0,391.2 277.0,391.3 278.0,391.3 279.0,391.3 280.0,391.3 281.0,391.3 282.0,391.3 283.0,391.3 284.0,391.3 285.0,391.3 286.0,391.3 287.0,391.3 288.0,391.3 289.0,391.3 290.0,391.3 291.0,391.3 292.0,391.3 293.0,391.3 294.0,391.3 295.0,391.3 296.0,391.3 297.0,391.3 298.0,391.3 299.0,391.3 300.0,391.3 301.0,391.3 302.0,391.3 303.0,391.3 304.0,391.3 305.0,391.3 306.0,391.3 307.0,391.3 308.0,391.3 309.0,391.3 310.0,391.3 311.0,391.3 312.0,391.3 313.0,391.3 314.0,391.3 315.0,391.3 316.0,391.3 317.0,391.3 318.0,391.3" fill="none" stroke="#00ffff" stroke-width="2" stroke-dasharray="7 4" stroke-linejoin="round"/>
<path d="M48.0,391.3 49.0,391.3 50.0,391.3 51.0,391.3 52.0,391.3 53.0,391.3 54.0,391.3 55.0,391.3 56.0,391.3 57.0,391.3 58.0,391.3 59.0,391.3 60.0,391.3 61.0,391.3 62.0,391.3 63.0,391.3 64.0,391.3 65.0,391.3 66.0,391.3 67.0,391.3 68.0,391.3 69.0,391.3 70.0,391.3 71.0,391.3 72.0,391.3 73.0,391.3 74.0,391.3 75.0,391.3 76.0,391.3 77.0,391.3 78.0,391.3 79.0,391.3 80.0,391.3 81.0,391.3 82.0,391.3 83.0,391.3 84.0,391.3 85.0,391.3 86.0,391.3 87.0,391.3 88.0,391.3 89.0,391.3 90.0,391.3 91.0,391.3 92.0,391.3 93.0,391.3 94.0,391.3 95.0,391.3 96.0,391.3 97.0,391.3 98.0,391.3 99.0,391.3 100.0,391.3 101.0,391.3 102.0,391.3 103.0,391.3 104.0,391.3 105.0,391.3 106.0,391.3 107.0,391.3 108.0,391.3 109.0,391.3 110.0,391.3 111.0,391.3 112.0,391.3 113.0,391.3 114.0,391.3 115.0,391.3 116.0,391.3 117.0,391.3 118.0,391.3 119.0,391.3 120.0,391.3 121.0,391.3 122.0,391.3 123.0,391.3 124.0,391.3 125.0,391.3 126.0,391.3 127.0,391.3 128.0,391.3 129.0,391.3 130.0,391.3 131.0,391.3 132.0,391.3 133.0,391.3 134.0,391.3 135.0,391.3 136.0,391.3 137.0,391.3 138.0,391.3 139.0,391.3 140.0,391.3 141.0,391.3 142.0,391.3 143.0,391.3 144.0,391.3 145.0,391.3 146.0,391.3 147.0,391.3 148.0,391.3 149.0,391.3 150.0,391.3 151.0,391.3 152.0,391.3 153.0,391.3 154.0,391.3 155.0,391.3 156.0,391.3 157.0,391.3 158.0,391.3 159.0,391.3 160.0,391.3 161.0,391.3 162.0,391.3 163.0,391.3 164.0,391.3 165.0,391.3 166.0,391.3 167.0,391.3 168.0,391.3 169.0,391.3 170.0,391.3 171.0,391.3 172.0,391.3 173.0,391.3 174.0,391.3 175.0,391.3 176.0,391.3 177.0,391.3 178.0,391.3 179.0,391.3 180.0,391.3 181.0,391.3 182.0,391.3 183.0,391.3 184.0,391.3 185.0,391.3 186.0,391.3 187.0,391.3 188.0,391.3 189.0,391.3 190.0,391.3 191.0,391.3 192.0,391.3 193.0,391.3 194.0,391.3 195.0,391.3 196.0,391.3 197.0,391.3 198.0,391.3 199.0,391.3 200.0,391.3 201.0,391.3 202.0,391.3 203.0,391.3 204.0,391.3 205.0,391.3 206.0,391.3 207.0,391.3 208.0,391.3 209.0,391.3 210.0,391.3 211.0,391.3 212.0,391.3 213.0,391.3 214.0,391.3 215.0,391.3 216.0,391.3 217.0,391.3 218.0,391.3 219.0,391.3 220.0,391.3 221.0,391.3 222.0,391.3 223.0,391.3 224.0,391.3 225.0,391.3 226.0,391.3 227.0,391.3 228.0,391.3 229.0,391.3 230.0,391.3 231.0,391.3 232.0,391.3 233.0,391.3 234.0,391.3 235.0,391.3 236.0,391.2 237.0,391.2 238.0,391.2 239.0,391.2 240.0,391.2 241.0,391.2 242.0,391.2 243.0,391.2 244.0,391.2 245.0,391.2 246.0,391.2 247.0,391.2 248.0,391.2 249.0,391.2 250.0,391.1 251.0,391.1 252.0,391.1 253.0,391.1 254.0,391.1 255.0,391.1 256.0,391.1 257.0,391.0 258.0,391.0 259.0,391.0 260.0,391.0 261.0,391.0 262.0,390.9 263.0,390.9 264.0,390.9 265.0,390.9 266.0,390.8 267.0,390.8 268.0,390.8 269.0,390.7 270.0,390.7 271.0,390.7 272.0,390.6 273.0,390.6 274.0,390.6 275.0,390.5 276.0,390.5 277.0,390.4 278.0,390.4 279.0,390.4 280.0,390.3 281.0,390.3 282.0,390.2 283.0,390.2 284.0,390.2 285.0,390.1 286.0,390.1 287.0,390.1 288.0,390.0 289.0,390.0 290.0,390.0 291.0,390.0 292.0,390.0 293.0,390.0 294.0,390.0 295.0,390.0 296.0,390.0 297.0,390.0 298.0,390.1 299.0,390.1 300.0,390.1 301.0,390.2 302.0,390.2 303.0,390.3 304.0,390.4 305.0,390.4 306.0,390.5 307.0,390.6 308.0,390.6 309.0,390.7 310.0,390.8 311.0,390.8 312.0,390.9 313.0,391.0 314.0,391.0 315.0,391.1 316.0,391.1 317.0,391.2 318.0,391.2" fill="none" stroke="#ff00ff" stroke-width="2" stroke-dasharray="7 4" stroke-linejoin="round"/>
<g stroke="#000" stroke-width="1.3" stroke-linecap="butt"><line x1="47.7" y1="6.0" x2="47.7" y2="394.8"/><line x1="348.7" y1="6.0" x2="348.7" y2="394.8"/><line x1="47.7" y1="6.0" x2="348.7" y2="6.0"/><line x1="47.7" y1="102.5" x2="348.7" y2="102.5"/><line x1="47.7" y1="199.3" x2="348.7" y2="199.3"/><line x1="47.7" y1="296.4" x2="348.7" y2="296.4"/><line x1="47.7" y1="392.2" x2="348.7" y2="392.2"/><line x1="47.70" y1="392.2" x2="47.70" y2="394.8"/><line x1="47.70" y1="102.5" x2="47.70" y2="105.1"/><line x1="47.70" y1="199.3" x2="47.70" y2="201.9"/><line x1="47.70" y1="296.4" x2="47.70" y2="299.0"/><line x1="77.80" y1="392.2" x2="77.80" y2="397.4"/><line x1="77.80" y1="102.5" x2="77.80" y2="107.7"/><line x1="77.80" y1="199.3" x2="77.80" y2="204.5"/><line x1="77.80" y1="296.4" x2="77.80" y2="301.59999999999997"/><line x1="107.90" y1="392.2" x2="107.90" y2="394.8"/><line x1="107.90" y1="102.5" x2="107.90" y2="105.1"/><line x1="107.90" y1="199.3" x2="107.90" y2="201.9"/><line x1="107.90" y1="296.4" x2="107.90" y2="299.0"/><line x1="138.00" y1="392.2" x2="138.00" y2="397.4"/><line x1="138.00" y1="102.5" x2="138.00" y2="107.7"/><line x1="138.00" y1="199.3" x2="138.00" y2="204.5"/><line x1="138.00" y1="296.4" x2="138.00" y2="301.59999999999997"/><line x1="168.10" y1="392.2" x2="168.10" y2="394.8"/><line x1="168.10" y1="102.5" x2="168.10" y2="105.1"/><line x1="168.10" y1="199.3" x2="168.10" y2="201.9"/><line x1="168.10" y1="296.4" x2="168.10" y2="299.0"/><line x1="198.20" y1="392.2" x2="198.20" y2="397.4"/><line x1="198.20" y1="102.5" x2="198.20" y2="107.7"/><line x1="198.20" y1="199.3" x2="198.20" y2="204.5"/><line x1="198.20" y1="296.4" x2="198.20" y2="301.59999999999997"/><line x1="228.30" y1="392.2" x2="228.30" y2="394.8"/><line x1="228.30" y1="102.5" x2="228.30" y2="105.1"/><line x1="228.30" y1="199.3" x2="228.30" y2="201.9"/><line x1="228.30" y1="296.4" x2="228.30" y2="299.0"/><line x1="258.40" y1="392.2" x2="258.40" y2="397.4"/><line x1="258.40" y1="102.5" x2="258.40" y2="107.7"/><line x1="258.40" y1="199.3" x2="258.40" y2="204.5"/><line x1="258.40" y1="296.4" x2="258.40" y2="301.59999999999997"/><line x1="288.50" y1="392.2" x2="288.50" y2="394.8"/><line x1="288.50" y1="102.5" x2="288.50" y2="105.1"/><line x1="288.50" y1="199.3" x2="288.50" y2="201.9"/><line x1="288.50" y1="296.4" x2="288.50" y2="299.0"/><line x1="318.60" y1="392.2" x2="318.60" y2="397.4"/><line x1="318.60" y1="102.5" x2="318.60" y2="107.7"/><line x1="318.60" y1="199.3" x2="318.60" y2="204.5"/><line x1="318.60" y1="296.4" x2="318.60" y2="301.59999999999997"/><line x1="348.70" y1="392.2" x2="348.70" y2="394.8"/><line x1="348.70" y1="102.5" x2="348.70" y2="105.1"/><line x1="348.70" y1="199.3" x2="348.70" y2="201.9"/><line x1="348.70" y1="296.4" x2="348.70" y2="299.0"/><line x1="42.90" y1="6.00" x2="47.7" y2="6.00"/><line x1="45.30" y1="30.15" x2="47.7" y2="30.15"/><line x1="42.90" y1="54.30" x2="47.7" y2="54.30"/><line x1="45.30" y1="78.45" x2="47.7" y2="78.45"/><line x1="42.90" y1="102.60" x2="47.7" y2="102.60"/><line x1="42.90" y1="119.10" x2="47.7" y2="119.10"/><line x1="45.30" y1="139.12" x2="47.7" y2="139.12"/><line x1="42.90" y1="159.15" x2="47.7" y2="159.15"/><line x1="45.30" y1="179.17" x2="47.7" y2="179.17"/><line x1="42.90" y1="204.50" x2="47.7" y2="204.50"/><line x1="45.30" y1="227.60" x2="47.7" y2="227.60"/><line x1="42.90" y1="250.70" x2="47.7" y2="250.70"/><line x1="45.30" y1="273.80" x2="47.7" y2="273.80"/><line x1="42.90" y1="304.90" x2="47.7" y2="304.90"/><line x1="45.30" y1="326.85" x2="47.7" y2="326.85"/><line x1="42.90" y1="348.80" x2="47.7" y2="348.80"/><line x1="45.30" y1="370.75" x2="47.7" y2="370.75"/><line x1="42.90" y1="392.70" x2="47.7" y2="392.70"/></g>
<g font-family="Liberation Sans" font-weight="bold" font-size="12px" fill="#000"><text x="39.6" y="10.10" text-anchor="end">1,0</text><text x="39.6" y="57.80" text-anchor="end">0,5</text><text x="39.6" y="122.80" text-anchor="end">1,0</text><text x="39.6" y="162.95" text-anchor="end">0,5</text><text x="39.6" y="208.60" text-anchor="end">2</text><text x="39.6" y="253.90" text-anchor="end">1</text><text x="39.6" y="308.20" text-anchor="end">10</text><text x="39.6" y="352.50" text-anchor="end">5</text><text x="39.6" y="396.60" text-anchor="end">0</text><text x="77.80" y="410.2" text-anchor="middle">250</text><text x="138.00" y="410.2" text-anchor="middle">300</text><text x="198.20" y="410.2" text-anchor="middle">350</text><text x="258.40" y="410.2" text-anchor="middle">400</text><text x="318.60" y="410.2" text-anchor="middle">450</text></g>
<text x="208" y="428.9" text-anchor="middle" font-family="Liberation Sans" font-weight="bold" font-size="12.5px">Temperature (K)</text>
<text transform="translate(10.2,213.9) rotate(-90)" x="0" y="0" text-anchor="middle" font-family="Liberation Sans" font-weight="bold" font-size="12.65px">TSL Intensity (arb.units)</text>
<text transform="translate(56.6,26.6) skewX(-8)" font-family="Liberation Sans" font-weight="bold" font-style="italic" font-size="14px">a</text>
<text x="58.9" y="123.5" font-family="Liberation Serif" font-weight="bold" font-style="italic" font-size="14.5px">b</text>
<text transform="translate(57.2,226.6) scale(1.2,1.05)" font-family="Liberation Serif" font-weight="bold" font-style="italic" font-size="14.5px">c</text>
<text transform="translate(59.6,326) scale(1.2,1)" font-family="Liberation Serif" font-weight="bold" font-style="italic" font-size="14.5px">d</text>
<g font-family="Liberation Sans" font-weight="bold" font-size="12.4px" fill="#000"><text x="192.16" y="24.30">UID</text><text x="217.20" y="24.30" font-weight="normal" font-size="13px">β</text><text x="224.30" y="24.30">-Ga</text><text x="244.40" y="28.30" font-size="8px">2</text><text x="249.40" y="24.30">O</text><text x="258.50" y="28.30" font-size="8px">3</text><text x="266.90" y="24.30">(background</text><text x="192.20" y="44.80">concentration of</text><text x="293.80" y="44.80">Cr</text><text x="307.20" y="38.80" font-size="7.6px">3+</text><text x="316.20" y="45.10" font-weight="normal" font-size="11.4px">)</text><text x="219.00" y="126.70" font-weight="normal" font-size="13px">β</text><text x="226.60" y="126.70">-Ga</text><text x="246.50" y="130.70" font-size="8px">2</text><text x="251.50" y="126.70">O</text><text x="260.60" y="130.70" font-size="8px">3</text><text x="265.40" y="126.70">:</text><text x="272.90" y="126.70">0.005%</text><text x="318.10" y="126.70">Cr</text><text x="331.20" y="119.70" font-size="8.4px">3+</text><text x="227.50" y="221.60" font-weight="normal" font-size="13px">β</text><text x="234.60" y="221.60">-Ga</text><text x="254.70" y="225.60" font-size="8px">2</text><text x="259.80" y="221.60">O</text><text x="269.20" y="225.60" font-size="8px">3</text><text x="273.70" y="221.60">:</text><text x="280.40" y="221.60">0.01%</text><text x="319.50" y="221.60">Cr</text><text x="332.70" y="214.60" font-size="8.4px">3+</text><text x="228.10" y="316.60" font-weight="normal" font-size="13px">β</text><text x="234.80" y="316.60">-Ga</text><text x="254.90" y="320.60" font-size="8px">2</text><text x="259.80" y="316.60">O</text><text x="269.20" y="320.60" font-size="8px">3</text><text x="273.70" y="316.60">:</text><text x="280.40" y="316.60">0.05%</text><text x="319.10" y="316.60">Cr</text><text x="333.20" y="309.60" font-size="8.4px">3+</text></g>
</svg></body></html>
